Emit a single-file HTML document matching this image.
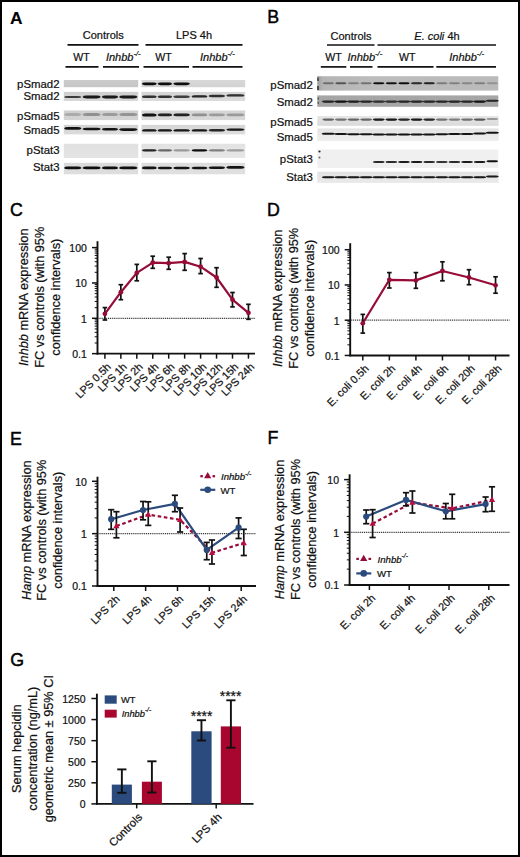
<!DOCTYPE html>
<html><head><meta charset="utf-8"><style>
html,body{margin:0;padding:0;background:#fff;}
svg{display:block;}
text{font-family:"Liberation Sans",sans-serif;stroke:#111;stroke-width:0.22px;}
</style></head><body>
<svg width="520" height="857" viewBox="0 0 520 857">
<defs><filter id="bl" x="-10%" y="-100%" width="120%" height="300%"><feGaussianBlur stdDeviation="0.55"/></filter></defs>
<rect x="0" y="0" width="520" height="857" fill="#fff"/>
<text x="9.9" y="23.8" font-size="17.4" font-weight="bold" fill="#000" style="stroke-width:0.1px">A</text>
<text x="267.30" y="23.45" font-size="17.8" fill="#000" style="stroke:#000;stroke-width:0.45px">B</text>
<text x="9.90" y="216.25" font-size="17.8" fill="#000" style="stroke:#000;stroke-width:0.45px">C</text>
<text x="267.10" y="215.70" font-size="17.8" fill="#000" style="stroke:#000;stroke-width:0.45px">D</text>
<text x="9.90" y="444.50" font-size="17.8" fill="#000" style="stroke:#000;stroke-width:0.45px">E</text>
<text x="267.40" y="444.20" font-size="17.8" fill="#000" style="stroke:#000;stroke-width:0.45px">F</text>
<text x="10.20" y="666.00" font-size="17.8" fill="#000" style="stroke:#000;stroke-width:0.45px">G</text>
<text x="103.30" y="39.30" font-size="11" text-anchor="middle" fill="#111" >Controls</text>
<line x1="67.50" y1="44.90" x2="138.50" y2="44.90" stroke="#111" stroke-width="1.7" />
<text x="194.00" y="39.30" font-size="11" text-anchor="middle" fill="#111" >LPS 4h</text>
<line x1="145.50" y1="44.90" x2="242.50" y2="44.90" stroke="#111" stroke-width="1.7" />
<text x="81.40" y="61.00" font-size="10.6" text-anchor="middle" fill="#111" >WT</text>
<line x1="65.50" y1="66.90" x2="98.50" y2="66.90" stroke="#111" stroke-width="1.7" />
<text x="105.90" y="61.30" font-size="11" text-anchor="start" fill="#111"><tspan font-style="italic">Inhbb</tspan><tspan font-size="7.70" dy="-4.95" font-style="italic">-/-</tspan></text>
<line x1="103.00" y1="66.90" x2="139.00" y2="66.90" stroke="#111" stroke-width="1.7" />
<text x="163.40" y="61.00" font-size="10.6" text-anchor="middle" fill="#111" >WT</text>
<line x1="143.50" y1="66.90" x2="189.00" y2="66.90" stroke="#111" stroke-width="1.7" />
<text x="200.00" y="61.30" font-size="11" text-anchor="start" fill="#111"><tspan font-style="italic">Inhbb</tspan><tspan font-size="7.70" dy="-4.95" font-style="italic">-/-</tspan></text>
<line x1="192.50" y1="66.90" x2="242.50" y2="66.90" stroke="#111" stroke-width="1.7" />
<text x="59.50" y="87.60" font-size="11.4" text-anchor="end" fill="#111" >pSmad2</text>
<text x="59.50" y="100.30" font-size="11.4" text-anchor="end" fill="#111" >Smad2</text>
<text x="59.50" y="119.60" font-size="11.4" text-anchor="end" fill="#111" >pSmad5</text>
<text x="59.50" y="134.10" font-size="11.4" text-anchor="end" fill="#111" >Smad5</text>
<text x="59.50" y="154.20" font-size="11.4" text-anchor="end" fill="#111" >pStat3</text>
<text x="59.50" y="171.20" font-size="11.4" text-anchor="end" fill="#111" >Stat3</text>
<defs><linearGradient id="ga1" x1="0" x2="0" y1="0" y2="1"><stop offset="0" stop-color="#cbcbcb"/><stop offset="1" stop-color="#c6c6c6"/></linearGradient></defs>
<rect x="63.80" y="80.00" width="74.40" height="7.20" fill="url(#ga1)" />
<defs><linearGradient id="ga2" x1="0" x2="0" y1="0" y2="1"><stop offset="0" stop-color="#d8d8d8"/><stop offset="1" stop-color="#d2d2d2"/></linearGradient></defs>
<rect x="141.40" y="80.00" width="103.80" height="7.20" fill="url(#ga2)" />
<path fill="#0a0a0a" fill-opacity="1.00" filter="url(#bl)" d="M141.80,83.80 Q142.31,82.40 145.18,82.40 L153.43,82.40 Q156.29,82.40 156.80,83.80 Q156.29,85.20 153.43,85.20 L145.18,85.20 Q142.31,85.20 141.80,83.80Z"/>
<path fill="#0a0a0a" fill-opacity="0.99" filter="url(#bl)" d="M157.60,83.80 Q158.09,82.40 160.88,82.40 L168.91,82.40 Q171.71,82.40 172.20,83.80 Q171.71,85.20 168.91,85.20 L160.88,85.20 Q158.09,85.20 157.60,83.80Z"/>
<path fill="#0a0a0a" fill-opacity="0.99" filter="url(#bl)" d="M173.20,83.80 Q173.77,82.40 176.98,82.40 L186.22,82.40 Q189.43,82.40 190.00,83.80 Q189.43,85.20 186.22,85.20 L176.98,85.20 Q173.77,85.20 173.20,83.80Z"/>
<defs><linearGradient id="ga3" x1="0" x2="0" y1="0" y2="1"><stop offset="0" stop-color="#cecece"/><stop offset="1" stop-color="#d8d8d8"/></linearGradient></defs>
<rect x="63.80" y="91.90" width="74.40" height="9.10" fill="url(#ga3)" />
<defs><linearGradient id="ga4" x1="0" x2="0" y1="0" y2="1"><stop offset="0" stop-color="#d4d4d4"/><stop offset="1" stop-color="#dcdcdc"/></linearGradient></defs>
<rect x="141.40" y="91.90" width="103.80" height="9.10" fill="url(#ga4)" />
<path fill="#0a0a0a" fill-opacity="0.77" filter="url(#bl)" d="M64.00,97.00 Q64.59,95.90 67.94,95.90 L77.56,95.90 Q80.91,95.90 81.50,97.00 Q80.91,98.10 77.56,98.10 L67.94,98.10 Q64.59,98.10 64.00,97.00Z"/>
<path fill="#0a0a0a" fill-opacity="0.94" filter="url(#bl)" d="M82.50,97.00 Q83.12,95.60 86.62,95.60 L96.68,95.60 Q100.18,95.60 100.80,97.00 Q100.18,98.40 96.68,98.40 L86.62,98.40 Q83.12,98.40 82.50,97.00Z"/>
<path fill="#0a0a0a" fill-opacity="0.94" filter="url(#bl)" d="M101.80,97.00 Q102.35,95.60 105.49,95.60 L114.51,95.60 Q117.65,95.60 118.20,97.00 Q117.65,98.40 114.51,98.40 L105.49,98.40 Q102.35,98.40 101.80,97.00Z"/>
<path fill="#0a0a0a" fill-opacity="0.94" filter="url(#bl)" d="M119.00,97.00 Q119.63,95.60 123.19,95.60 L133.41,95.60 Q136.97,95.60 137.60,97.00 Q136.97,98.40 133.41,98.40 L123.19,98.40 Q119.63,98.40 119.00,97.00Z"/>
<path fill="#0a0a0a" fill-opacity="0.83" filter="url(#bl)" d="M141.80,96.80 Q142.31,95.60 145.18,95.60 L153.43,95.60 Q156.29,95.60 156.80,96.80 Q156.29,98.00 153.43,98.00 L145.18,98.00 Q142.31,98.00 141.80,96.80Z"/>
<path fill="#0a0a0a" fill-opacity="0.83" filter="url(#bl)" d="M157.60,96.70 Q158.09,95.50 160.88,95.50 L168.91,95.50 Q171.71,95.50 172.20,96.70 Q171.71,97.90 168.91,97.90 L160.88,97.90 Q158.09,97.90 157.60,96.70Z"/>
<path fill="#0a0a0a" fill-opacity="0.77" filter="url(#bl)" d="M173.20,96.80 Q173.77,95.60 176.98,95.60 L186.22,95.60 Q189.43,95.60 190.00,96.80 Q189.43,98.00 186.22,98.00 L176.98,98.00 Q173.77,98.00 173.20,96.80Z"/>
<path fill="#0a0a0a" fill-opacity="0.88" filter="url(#bl)" d="M191.50,96.40 Q192.04,95.20 195.10,95.20 L203.90,95.20 Q206.96,95.20 207.50,96.40 Q206.96,97.60 203.90,97.60 L195.10,97.60 Q192.04,97.60 191.50,96.40Z"/>
<path fill="#0a0a0a" fill-opacity="0.83" filter="url(#bl)" d="M208.50,96.00 Q209.06,94.80 212.26,94.80 L221.44,94.80 Q224.64,94.80 225.20,96.00 Q224.64,97.20 221.44,97.20 L212.26,97.20 Q209.06,97.20 208.50,96.00Z"/>
<path fill="#0a0a0a" fill-opacity="0.83" filter="url(#bl)" d="M226.20,95.40 Q226.82,94.20 230.34,94.20 L240.46,94.20 Q243.98,94.20 244.60,95.40 Q243.98,96.60 240.46,96.60 L230.34,96.60 Q226.82,96.60 226.20,95.40Z"/>
<defs><linearGradient id="ga5" x1="0" x2="0" y1="0" y2="1"><stop offset="0" stop-color="#cfcfcf"/><stop offset="1" stop-color="#d3d3d3"/></linearGradient></defs>
<rect x="63.80" y="110.50" width="74.40" height="9.60" fill="url(#ga5)" />
<defs><linearGradient id="ga6" x1="0" x2="0" y1="0" y2="1"><stop offset="0" stop-color="#d4d4d4"/><stop offset="1" stop-color="#d8d8d8"/></linearGradient></defs>
<rect x="141.40" y="110.50" width="103.80" height="9.60" fill="url(#ga6)" />
<path fill="#0a0a0a" fill-opacity="0.18" filter="url(#bl)" d="M64.00,114.50 Q64.59,113.00 67.94,113.00 L77.56,113.00 Q80.91,113.00 81.50,114.50 Q80.91,116.00 77.56,116.00 L67.94,116.00 Q64.59,116.00 64.00,114.50Z"/>
<path fill="#0a0a0a" fill-opacity="0.31" filter="url(#bl)" d="M82.50,114.50 Q83.12,113.00 86.62,113.00 L96.68,113.00 Q100.18,113.00 100.80,114.50 Q100.18,116.00 96.68,116.00 L86.62,116.00 Q83.12,116.00 82.50,114.50Z"/>
<path fill="#0a0a0a" fill-opacity="0.26" filter="url(#bl)" d="M101.80,114.50 Q102.35,113.00 105.49,113.00 L114.51,113.00 Q117.65,113.00 118.20,114.50 Q117.65,116.00 114.51,116.00 L105.49,116.00 Q102.35,116.00 101.80,114.50Z"/>
<path fill="#0a0a0a" fill-opacity="0.29" filter="url(#bl)" d="M119.00,114.50 Q119.63,113.00 123.19,113.00 L133.41,113.00 Q136.97,113.00 137.60,114.50 Q136.97,116.00 133.41,116.00 L123.19,116.00 Q119.63,116.00 119.00,114.50Z"/>
<path fill="#0a0a0a" fill-opacity="0.97" filter="url(#bl)" d="M141.80,114.90 Q142.31,113.40 145.18,113.40 L153.43,113.40 Q156.29,113.40 156.80,114.90 Q156.29,116.40 153.43,116.40 L145.18,116.40 Q142.31,116.40 141.80,114.90Z"/>
<path fill="#0a0a0a" fill-opacity="0.90" filter="url(#bl)" d="M157.60,114.90 Q158.09,113.50 160.88,113.50 L168.91,113.50 Q171.71,113.50 172.20,114.90 Q171.71,116.30 168.91,116.30 L160.88,116.30 Q158.09,116.30 157.60,114.90Z"/>
<path fill="#0a0a0a" fill-opacity="0.90" filter="url(#bl)" d="M173.20,114.90 Q173.77,113.50 176.98,113.50 L186.22,113.50 Q189.43,113.50 190.00,114.90 Q189.43,116.30 186.22,116.30 L176.98,116.30 Q173.77,116.30 173.20,114.90Z"/>
<path fill="#0a0a0a" fill-opacity="0.33" filter="url(#bl)" d="M191.50,114.90 Q192.04,113.60 195.10,113.60 L203.90,113.60 Q206.96,113.60 207.50,114.90 Q206.96,116.20 203.90,116.20 L195.10,116.20 Q192.04,116.20 191.50,114.90Z"/>
<path fill="#0a0a0a" fill-opacity="0.28" filter="url(#bl)" d="M208.50,114.90 Q209.06,113.60 212.26,113.60 L221.44,113.60 Q224.64,113.60 225.20,114.90 Q224.64,116.20 221.44,116.20 L212.26,116.20 Q209.06,116.20 208.50,114.90Z"/>
<path fill="#0a0a0a" fill-opacity="0.28" filter="url(#bl)" d="M226.20,114.90 Q226.82,113.60 230.34,113.60 L240.46,113.60 Q243.98,113.60 244.60,114.90 Q243.98,116.20 240.46,116.20 L230.34,116.20 Q226.82,116.20 226.20,114.90Z"/>
<defs><linearGradient id="ga7" x1="0" x2="0" y1="0" y2="1"><stop offset="0" stop-color="#d2d2d2"/><stop offset="1" stop-color="#dcdcdc"/></linearGradient></defs>
<rect x="63.80" y="124.90" width="74.40" height="9.50" fill="url(#ga7)" />
<defs><linearGradient id="ga8" x1="0" x2="0" y1="0" y2="1"><stop offset="0" stop-color="#d6d6d6"/><stop offset="1" stop-color="#dedede"/></linearGradient></defs>
<rect x="141.40" y="124.90" width="103.80" height="9.50" fill="url(#ga8)" />
<path fill="#0a0a0a" fill-opacity="0.97" filter="url(#bl)" d="M64.00,128.40 Q64.59,127.10 67.94,127.10 L77.56,127.10 Q80.91,127.10 81.50,128.40 Q80.91,129.70 77.56,129.70 L67.94,129.70 Q64.59,129.70 64.00,128.40Z"/>
<path fill="#0a0a0a" fill-opacity="0.97" filter="url(#bl)" d="M82.50,129.00 Q83.12,127.70 86.62,127.70 L96.68,127.70 Q100.18,127.70 100.80,129.00 Q100.18,130.30 96.68,130.30 L86.62,130.30 Q83.12,130.30 82.50,129.00Z"/>
<path fill="#0a0a0a" fill-opacity="0.97" filter="url(#bl)" d="M101.80,129.20 Q102.35,127.90 105.49,127.90 L114.51,127.90 Q117.65,127.90 118.20,129.20 Q117.65,130.50 114.51,130.50 L105.49,130.50 Q102.35,130.50 101.80,129.20Z"/>
<path fill="#0a0a0a" fill-opacity="0.97" filter="url(#bl)" d="M119.00,129.60 Q119.63,128.30 123.19,128.30 L133.41,128.30 Q136.97,128.30 137.60,129.60 Q136.97,130.90 133.41,130.90 L123.19,130.90 Q119.63,130.90 119.00,129.60Z"/>
<path fill="#0a0a0a" fill-opacity="0.94" filter="url(#bl)" d="M141.80,130.40 Q142.31,129.20 145.18,129.20 L153.43,129.20 Q156.29,129.20 156.80,130.40 Q156.29,131.60 153.43,131.60 L145.18,131.60 Q142.31,131.60 141.80,130.40Z"/>
<path fill="#0a0a0a" fill-opacity="0.94" filter="url(#bl)" d="M157.60,130.40 Q158.09,129.20 160.88,129.20 L168.91,129.20 Q171.71,129.20 172.20,130.40 Q171.71,131.60 168.91,131.60 L160.88,131.60 Q158.09,131.60 157.60,130.40Z"/>
<path fill="#0a0a0a" fill-opacity="0.94" filter="url(#bl)" d="M173.20,130.40 Q173.77,129.20 176.98,129.20 L186.22,129.20 Q189.43,129.20 190.00,130.40 Q189.43,131.60 186.22,131.60 L176.98,131.60 Q173.77,131.60 173.20,130.40Z"/>
<path fill="#0a0a0a" fill-opacity="0.94" filter="url(#bl)" d="M191.50,130.40 Q192.04,129.20 195.10,129.20 L203.90,129.20 Q206.96,129.20 207.50,130.40 Q206.96,131.60 203.90,131.60 L195.10,131.60 Q192.04,131.60 191.50,130.40Z"/>
<path fill="#0a0a0a" fill-opacity="0.88" filter="url(#bl)" d="M208.50,130.20 Q209.06,129.00 212.26,129.00 L221.44,129.00 Q224.64,129.00 225.20,130.20 Q224.64,131.40 221.44,131.40 L212.26,131.40 Q209.06,131.40 208.50,130.20Z"/>
<path fill="#0a0a0a" fill-opacity="0.94" filter="url(#bl)" d="M226.20,129.60 Q226.82,128.40 230.34,128.40 L240.46,128.40 Q243.98,128.40 244.60,129.60 Q243.98,130.80 240.46,130.80 L230.34,130.80 Q226.82,130.80 226.20,129.60Z"/>
<defs><linearGradient id="ga9" x1="0" x2="0" y1="0" y2="1"><stop offset="0" stop-color="#e0e0e0"/><stop offset="1" stop-color="#e4e4e4"/></linearGradient></defs>
<rect x="63.80" y="143.80" width="74.40" height="14.20" fill="url(#ga9)" />
<defs><linearGradient id="ga10" x1="0" x2="0" y1="0" y2="1"><stop offset="0" stop-color="#e2e2e2"/><stop offset="1" stop-color="#e6e6e6"/></linearGradient></defs>
<rect x="141.40" y="143.80" width="103.80" height="14.20" fill="url(#ga10)" />
<path fill="#0a0a0a" fill-opacity="0.88" filter="url(#bl)" d="M141.80,150.40 Q142.31,149.30 145.18,149.30 L153.43,149.30 Q156.29,149.30 156.80,150.40 Q156.29,151.50 153.43,151.50 L145.18,151.50 Q142.31,151.50 141.80,150.40Z"/>
<path fill="#0a0a0a" fill-opacity="0.55" filter="url(#bl)" d="M157.60,150.40 Q158.09,149.30 160.88,149.30 L168.91,149.30 Q171.71,149.30 172.20,150.40 Q171.71,151.50 168.91,151.50 L160.88,151.50 Q158.09,151.50 157.60,150.40Z"/>
<path fill="#0a0a0a" fill-opacity="0.33" filter="url(#bl)" d="M173.20,150.40 Q173.77,149.30 176.98,149.30 L186.22,149.30 Q189.43,149.30 190.00,150.40 Q189.43,151.50 186.22,151.50 L176.98,151.50 Q173.77,151.50 173.20,150.40Z"/>
<path fill="#0a0a0a" fill-opacity="1.00" filter="url(#bl)" d="M191.50,150.40 Q192.04,149.30 195.10,149.30 L203.90,149.30 Q206.96,149.30 207.50,150.40 Q206.96,151.50 203.90,151.50 L195.10,151.50 Q192.04,151.50 191.50,150.40Z"/>
<path fill="#0a0a0a" fill-opacity="0.44" filter="url(#bl)" d="M208.50,150.40 Q209.06,149.30 212.26,149.30 L221.44,149.30 Q224.64,149.30 225.20,150.40 Q224.64,151.50 221.44,151.50 L212.26,151.50 Q209.06,151.50 208.50,150.40Z"/>
<path fill="#0a0a0a" fill-opacity="0.31" filter="url(#bl)" d="M226.20,150.40 Q226.82,149.30 230.34,149.30 L240.46,149.30 Q243.98,149.30 244.60,150.40 Q243.98,151.50 240.46,151.50 L230.34,151.50 Q226.82,151.50 226.20,150.40Z"/>
<defs><linearGradient id="ga11" x1="0" x2="0" y1="0" y2="1"><stop offset="0" stop-color="#dadada"/><stop offset="1" stop-color="#dedede"/></linearGradient></defs>
<rect x="63.80" y="162.80" width="74.40" height="11.50" fill="url(#ga11)" />
<defs><linearGradient id="ga12" x1="0" x2="0" y1="0" y2="1"><stop offset="0" stop-color="#dcdcdc"/><stop offset="1" stop-color="#e0e0e0"/></linearGradient></defs>
<rect x="141.40" y="162.80" width="103.80" height="11.50" fill="url(#ga12)" />
<path fill="#0a0a0a" fill-opacity="0.99" filter="url(#bl)" d="M64.00,167.90 Q64.59,166.50 67.94,166.50 L77.56,166.50 Q80.91,166.50 81.50,167.90 Q80.91,169.30 77.56,169.30 L67.94,169.30 Q64.59,169.30 64.00,167.90Z"/>
<path fill="#0a0a0a" fill-opacity="0.99" filter="url(#bl)" d="M82.50,167.90 Q83.12,166.50 86.62,166.50 L96.68,166.50 Q100.18,166.50 100.80,167.90 Q100.18,169.30 96.68,169.30 L86.62,169.30 Q83.12,169.30 82.50,167.90Z"/>
<path fill="#0a0a0a" fill-opacity="0.99" filter="url(#bl)" d="M101.80,167.90 Q102.35,166.50 105.49,166.50 L114.51,166.50 Q117.65,166.50 118.20,167.90 Q117.65,169.30 114.51,169.30 L105.49,169.30 Q102.35,169.30 101.80,167.90Z"/>
<path fill="#0a0a0a" fill-opacity="0.99" filter="url(#bl)" d="M119.00,167.90 Q119.63,166.50 123.19,166.50 L133.41,166.50 Q136.97,166.50 137.60,167.90 Q136.97,169.30 133.41,169.30 L123.19,169.30 Q119.63,169.30 119.00,167.90Z"/>
<path fill="#0a0a0a" fill-opacity="0.97" filter="url(#bl)" d="M141.80,167.90 Q142.31,166.60 145.18,166.60 L153.43,166.60 Q156.29,166.60 156.80,167.90 Q156.29,169.20 153.43,169.20 L145.18,169.20 Q142.31,169.20 141.80,167.90Z"/>
<path fill="#0a0a0a" fill-opacity="0.97" filter="url(#bl)" d="M157.60,168.00 Q158.09,166.70 160.88,166.70 L168.91,166.70 Q171.71,166.70 172.20,168.00 Q171.71,169.30 168.91,169.30 L160.88,169.30 Q158.09,169.30 157.60,168.00Z"/>
<path fill="#0a0a0a" fill-opacity="0.97" filter="url(#bl)" d="M173.20,168.00 Q173.77,166.70 176.98,166.70 L186.22,166.70 Q189.43,166.70 190.00,168.00 Q189.43,169.30 186.22,169.30 L176.98,169.30 Q173.77,169.30 173.20,168.00Z"/>
<path fill="#0a0a0a" fill-opacity="0.97" filter="url(#bl)" d="M191.50,168.00 Q192.04,166.70 195.10,166.70 L203.90,166.70 Q206.96,166.70 207.50,168.00 Q206.96,169.30 203.90,169.30 L195.10,169.30 Q192.04,169.30 191.50,168.00Z"/>
<path fill="#0a0a0a" fill-opacity="0.97" filter="url(#bl)" d="M208.50,167.80 Q209.06,166.50 212.26,166.50 L221.44,166.50 Q224.64,166.50 225.20,167.80 Q224.64,169.10 221.44,169.10 L212.26,169.10 Q209.06,169.10 208.50,167.80Z"/>
<path fill="#0a0a0a" fill-opacity="0.97" filter="url(#bl)" d="M226.20,167.40 Q226.82,166.10 230.34,166.10 L240.46,166.10 Q243.98,166.10 244.60,167.40 Q243.98,168.70 240.46,168.70 L230.34,168.70 Q226.82,168.70 226.20,167.40Z"/>
<text x="351.00" y="39.60" font-size="11" text-anchor="middle" fill="#111" >Controls</text>
<line x1="327.00" y1="45.00" x2="374.50" y2="45.00" stroke="#111" stroke-width="1.7" />
<text x="437" y="39.6" font-size="11" text-anchor="middle" fill="#111"><tspan font-style="italic">E. coli</tspan> 4h</text>
<line x1="377.50" y1="45.00" x2="496.00" y2="45.00" stroke="#111" stroke-width="1.7" />
<text x="333.60" y="61.00" font-size="10.6" text-anchor="middle" fill="#111" >WT</text>
<line x1="320.80" y1="66.90" x2="346.30" y2="66.90" stroke="#111" stroke-width="1.7" />
<text x="347.50" y="61.30" font-size="11" text-anchor="start" fill="#111"><tspan font-style="italic">Inhbb</tspan><tspan font-size="7.70" dy="-4.95" font-style="italic">-/-</tspan></text>
<line x1="350.00" y1="66.90" x2="372.50" y2="66.90" stroke="#111" stroke-width="1.7" />
<text x="407.20" y="61.00" font-size="10.6" text-anchor="middle" fill="#111" >WT</text>
<line x1="377.50" y1="66.90" x2="433.50" y2="66.90" stroke="#111" stroke-width="1.7" />
<text x="449.30" y="61.30" font-size="11" text-anchor="start" fill="#111"><tspan font-style="italic">Inhbb</tspan><tspan font-size="7.70" dy="-4.95" font-style="italic">-/-</tspan></text>
<line x1="436.30" y1="66.90" x2="496.00" y2="66.90" stroke="#111" stroke-width="1.7" />
<text x="312.80" y="89.30" font-size="11.4" text-anchor="end" fill="#111" >pSmad2</text>
<text x="312.80" y="105.50" font-size="11.4" text-anchor="end" fill="#111" >Smad2</text>
<text x="312.80" y="126.30" font-size="11.4" text-anchor="end" fill="#111" >pSmad5</text>
<text x="312.80" y="140.50" font-size="11.4" text-anchor="end" fill="#111" >Smad5</text>
<text x="312.80" y="162.50" font-size="11.4" text-anchor="end" fill="#111" >pStat3</text>
<text x="312.80" y="181.30" font-size="11.4" text-anchor="end" fill="#111" >Stat3</text>
<defs><linearGradient id="gb1" x1="0" x2="1" y1="0" y2="0"><stop offset="0" stop-color="#9c9c9c"/><stop offset="0.03" stop-color="#b4b4b4"/><stop offset="0.3" stop-color="#bcbcbc"/><stop offset="1" stop-color="#bababa"/></linearGradient></defs>
<rect x="317.30" y="76.20" width="181.00" height="14.40" fill="url(#gb1)" />
<rect x="317.30" y="77.50" width="1.40" height="3.50" fill="#333" />
<rect x="317.30" y="86.00" width="1.40" height="4.00" fill="#222" />
<path fill="#0a0a0a" fill-opacity="0.39" filter="url(#bl)" d="M322.60,83.30 Q322.99,82.25 325.17,82.25 L331.45,82.25 Q333.63,82.25 334.01,83.30 Q333.63,84.35 331.45,84.35 L325.17,84.35 Q322.99,84.35 322.60,83.30Z"/>
<path fill="#0a0a0a" fill-opacity="0.55" filter="url(#bl)" d="M335.21,83.30 Q335.60,82.25 337.78,82.25 L344.06,82.25 Q346.24,82.25 346.63,83.30 Q346.24,84.35 344.06,84.35 L337.78,84.35 Q335.60,84.35 335.21,83.30Z"/>
<path fill="#0a0a0a" fill-opacity="0.31" filter="url(#bl)" d="M347.83,83.30 Q348.21,82.25 350.40,82.25 L356.67,82.25 Q358.86,82.25 359.24,83.30 Q358.86,84.35 356.67,84.35 L350.40,84.35 Q348.21,84.35 347.83,83.30Z"/>
<path fill="#0a0a0a" fill-opacity="0.39" filter="url(#bl)" d="M360.44,83.30 Q360.83,82.25 363.01,82.25 L369.29,82.25 Q371.47,82.25 371.86,83.30 Q371.47,84.35 369.29,84.35 L363.01,84.35 Q360.83,84.35 360.44,83.30Z"/>
<path fill="#0a0a0a" fill-opacity="0.99" filter="url(#bl)" d="M373.06,83.30 Q373.44,82.25 375.63,82.25 L381.90,82.25 Q384.09,82.25 384.47,83.30 Q384.09,84.35 381.90,84.35 L375.63,84.35 Q373.44,84.35 373.06,83.30Z"/>
<path fill="#0a0a0a" fill-opacity="0.97" filter="url(#bl)" d="M385.67,83.30 Q386.06,82.25 388.24,82.25 L394.52,82.25 Q396.70,82.25 397.09,83.30 Q396.70,84.35 394.52,84.35 L388.24,84.35 Q386.06,84.35 385.67,83.30Z"/>
<path fill="#0a0a0a" fill-opacity="1.00" filter="url(#bl)" d="M398.29,83.30 Q398.67,82.25 400.85,82.25 L407.13,82.25 Q409.31,82.25 409.70,83.30 Q409.31,84.35 407.13,84.35 L400.85,84.35 Q398.67,84.35 398.29,83.30Z"/>
<path fill="#0a0a0a" fill-opacity="0.83" filter="url(#bl)" d="M410.90,83.30 Q411.29,82.25 413.47,82.25 L419.75,82.25 Q421.93,82.25 422.31,83.30 Q421.93,84.35 419.75,84.35 L413.47,84.35 Q411.29,84.35 410.90,83.30Z"/>
<path fill="#0a0a0a" fill-opacity="0.88" filter="url(#bl)" d="M423.51,83.30 Q423.90,82.25 426.08,82.25 L432.36,82.25 Q434.54,82.25 434.93,83.30 Q434.54,84.35 432.36,84.35 L426.08,84.35 Q423.90,84.35 423.51,83.30Z"/>
<path fill="#0a0a0a" fill-opacity="0.33" filter="url(#bl)" d="M436.13,83.30 Q436.51,82.25 438.70,82.25 L444.97,82.25 Q447.16,82.25 447.54,83.30 Q447.16,84.35 444.97,84.35 L438.70,84.35 Q436.51,84.35 436.13,83.30Z"/>
<path fill="#0a0a0a" fill-opacity="0.31" filter="url(#bl)" d="M448.74,83.30 Q449.13,82.25 451.31,82.25 L457.59,82.25 Q459.77,82.25 460.16,83.30 Q459.77,84.35 457.59,84.35 L451.31,84.35 Q449.13,84.35 448.74,83.30Z"/>
<path fill="#0a0a0a" fill-opacity="0.28" filter="url(#bl)" d="M461.36,83.30 Q461.74,82.25 463.93,82.25 L470.20,82.25 Q472.39,82.25 472.77,83.30 Q472.39,84.35 470.20,84.35 L463.93,84.35 Q461.74,84.35 461.36,83.30Z"/>
<path fill="#0a0a0a" fill-opacity="0.33" filter="url(#bl)" d="M473.97,83.30 Q474.36,82.25 476.54,82.25 L482.82,82.25 Q485.00,82.25 485.39,83.30 Q485.00,84.35 482.82,84.35 L476.54,84.35 Q474.36,84.35 473.97,83.30Z"/>
<path fill="#0a0a0a" fill-opacity="0.22" filter="url(#bl)" d="M486.59,83.30 Q486.97,82.25 489.15,82.25 L495.43,82.25 Q497.61,82.25 498.00,83.30 Q497.61,84.35 495.43,84.35 L489.15,84.35 Q486.97,84.35 486.59,83.30Z"/>
<rect x="317.30" y="95.40" width="181.00" height="11.40" fill="#a6a6a6" />
<rect x="317.60" y="97.50" width="1.40" height="2.00" fill="#555" />
<rect x="317.60" y="101.80" width="1.40" height="2.00" fill="#555" />
<path fill="#0a0a0a" fill-opacity="0.83" filter="url(#bl)" d="M321.70,101.60 Q322.15,100.55 324.67,100.55 L331.94,100.55 Q334.47,100.55 334.91,101.60 Q334.47,102.65 331.94,102.65 L324.67,102.65 Q322.15,102.65 321.70,101.60Z"/>
<path fill="#0a0a0a" fill-opacity="0.94" filter="url(#bl)" d="M334.31,101.60 Q334.76,100.55 337.29,100.55 L344.56,100.55 Q347.08,100.55 347.53,101.60 Q347.08,102.65 344.56,102.65 L337.29,102.65 Q334.76,102.65 334.31,101.60Z"/>
<path fill="#0a0a0a" fill-opacity="0.88" filter="url(#bl)" d="M346.93,101.60 Q347.37,100.55 349.90,100.55 L357.17,100.55 Q359.70,100.55 360.14,101.60 Q359.70,102.65 357.17,102.65 L349.90,102.65 Q347.37,102.65 346.93,101.60Z"/>
<path fill="#0a0a0a" fill-opacity="0.83" filter="url(#bl)" d="M359.54,101.60 Q359.99,100.55 362.52,100.55 L369.78,100.55 Q372.31,100.55 372.76,101.60 Q372.31,102.65 369.78,102.65 L362.52,102.65 Q359.99,102.65 359.54,101.60Z"/>
<path fill="#0a0a0a" fill-opacity="0.77" filter="url(#bl)" d="M372.16,101.60 Q372.60,100.55 375.13,100.55 L382.40,100.55 Q384.93,100.55 385.37,101.60 Q384.93,102.65 382.40,102.65 L375.13,102.65 Q372.60,102.65 372.16,101.60Z"/>
<path fill="#0a0a0a" fill-opacity="0.77" filter="url(#bl)" d="M384.77,101.60 Q385.22,100.55 387.74,100.55 L395.01,100.55 Q397.54,100.55 397.99,101.60 Q397.54,102.65 395.01,102.65 L387.74,102.65 Q385.22,102.65 384.77,101.60Z"/>
<path fill="#0a0a0a" fill-opacity="0.83" filter="url(#bl)" d="M397.39,101.60 Q397.83,100.55 400.36,100.55 L407.63,100.55 Q410.15,100.55 410.60,101.60 Q410.15,102.65 407.63,102.65 L400.36,102.65 Q397.83,102.65 397.39,101.60Z"/>
<path fill="#0a0a0a" fill-opacity="0.83" filter="url(#bl)" d="M410.00,101.60 Q410.45,100.55 412.97,100.55 L420.24,100.55 Q422.77,100.55 423.21,101.60 Q422.77,102.65 420.24,102.65 L412.97,102.65 Q410.45,102.65 410.00,101.60Z"/>
<path fill="#0a0a0a" fill-opacity="0.83" filter="url(#bl)" d="M422.61,101.60 Q423.06,100.55 425.59,100.55 L432.86,100.55 Q435.38,100.55 435.83,101.60 Q435.38,102.65 432.86,102.65 L425.59,102.65 Q423.06,102.65 422.61,101.60Z"/>
<path fill="#0a0a0a" fill-opacity="0.83" filter="url(#bl)" d="M435.23,101.60 Q435.67,100.55 438.20,100.55 L445.47,100.55 Q448.00,100.55 448.44,101.60 Q448.00,102.65 445.47,102.65 L438.20,102.65 Q435.67,102.65 435.23,101.60Z"/>
<path fill="#0a0a0a" fill-opacity="0.83" filter="url(#bl)" d="M447.84,101.60 Q448.29,100.55 450.82,100.55 L458.08,100.55 Q460.61,100.55 461.06,101.60 Q460.61,102.65 458.08,102.65 L450.82,102.65 Q448.29,102.65 447.84,101.60Z"/>
<path fill="#0a0a0a" fill-opacity="0.83" filter="url(#bl)" d="M460.46,101.60 Q460.90,100.55 463.43,100.55 L470.70,100.55 Q473.23,100.55 473.67,101.60 Q473.23,102.65 470.70,102.65 L463.43,102.65 Q460.90,102.65 460.46,101.60Z"/>
<path fill="#0a0a0a" fill-opacity="0.94" filter="url(#bl)" d="M473.07,101.60 Q473.52,100.55 476.04,100.55 L483.31,100.55 Q485.84,100.55 486.29,101.60 Q485.84,102.65 483.31,102.65 L476.04,102.65 Q473.52,102.65 473.07,101.60Z"/>
<path fill="#0a0a0a" fill-opacity="0.83" filter="url(#bl)" d="M485.69,100.80 Q486.13,99.75 488.66,99.75 L495.93,99.75 Q498.45,99.75 498.90,100.80 Q498.45,101.85 495.93,101.85 L488.66,101.85 Q486.13,101.85 485.69,100.80Z"/>
<defs><linearGradient id="gb5" x1="0" x2="0" y1="0" y2="1"><stop offset="0" stop-color="#e6e6e6"/><stop offset="1" stop-color="#dadada"/></linearGradient></defs>
<rect x="317.30" y="116.00" width="181.30" height="9.80" fill="url(#gb5)" />
<path fill="#0a0a0a" fill-opacity="0.55" filter="url(#bl)" d="M322.30,119.60 Q322.71,118.55 325.00,118.55 L331.61,118.55 Q333.91,118.55 334.31,119.60 Q333.91,120.65 331.61,120.65 L325.00,120.65 Q322.71,120.65 322.30,119.60Z"/>
<path fill="#0a0a0a" fill-opacity="0.50" filter="url(#bl)" d="M334.91,119.60 Q335.32,118.55 337.62,118.55 L344.23,118.55 Q346.52,118.55 346.93,119.60 Q346.52,120.65 344.23,120.65 L337.62,120.65 Q335.32,120.65 334.91,119.60Z"/>
<path fill="#0a0a0a" fill-opacity="0.55" filter="url(#bl)" d="M347.53,119.60 Q347.93,118.55 350.23,118.55 L356.84,118.55 Q359.14,118.55 359.54,119.60 Q359.14,120.65 356.84,120.65 L350.23,120.65 Q347.93,120.65 347.53,119.60Z"/>
<path fill="#0a0a0a" fill-opacity="0.55" filter="url(#bl)" d="M360.14,119.60 Q360.55,118.55 362.85,118.55 L369.45,118.55 Q371.75,118.55 372.16,119.60 Q371.75,120.65 369.45,120.65 L362.85,120.65 Q360.55,120.65 360.14,119.60Z"/>
<path fill="#0a0a0a" fill-opacity="0.94" filter="url(#bl)" d="M372.76,119.60 Q373.16,118.55 375.46,118.55 L382.07,118.55 Q384.37,118.55 384.77,119.60 Q384.37,120.65 382.07,120.65 L375.46,120.65 Q373.16,120.65 372.76,119.60Z"/>
<path fill="#0a0a0a" fill-opacity="0.94" filter="url(#bl)" d="M385.37,119.60 Q385.78,118.55 388.07,118.55 L394.68,118.55 Q396.98,118.55 397.39,119.60 Q396.98,120.65 394.68,120.65 L388.07,120.65 Q385.78,120.65 385.37,119.60Z"/>
<path fill="#0a0a0a" fill-opacity="0.88" filter="url(#bl)" d="M397.99,119.60 Q398.39,118.55 400.69,118.55 L407.30,118.55 Q409.59,118.55 410.00,119.60 Q409.59,120.65 407.30,120.65 L400.69,120.65 Q398.39,120.65 397.99,119.60Z"/>
<path fill="#0a0a0a" fill-opacity="0.94" filter="url(#bl)" d="M410.60,119.60 Q411.01,118.55 413.30,118.55 L419.91,118.55 Q422.21,118.55 422.61,119.60 Q422.21,120.65 419.91,120.65 L413.30,120.65 Q411.01,120.65 410.60,119.60Z"/>
<path fill="#0a0a0a" fill-opacity="0.88" filter="url(#bl)" d="M423.21,119.60 Q423.62,118.55 425.92,118.55 L432.53,118.55 Q434.82,118.55 435.23,119.60 Q434.82,120.65 432.53,120.65 L425.92,120.65 Q423.62,120.65 423.21,119.60Z"/>
<path fill="#0a0a0a" fill-opacity="0.50" filter="url(#bl)" d="M435.83,119.60 Q436.23,118.55 438.53,118.55 L445.14,118.55 Q447.44,118.55 447.84,119.60 Q447.44,120.65 445.14,120.65 L438.53,120.65 Q436.23,120.65 435.83,119.60Z"/>
<path fill="#0a0a0a" fill-opacity="0.44" filter="url(#bl)" d="M448.44,119.60 Q448.85,118.55 451.15,118.55 L457.75,118.55 Q460.05,118.55 460.46,119.60 Q460.05,120.65 457.75,120.65 L451.15,120.65 Q448.85,120.65 448.44,119.60Z"/>
<path fill="#0a0a0a" fill-opacity="0.50" filter="url(#bl)" d="M461.06,119.60 Q461.46,118.55 463.76,118.55 L470.37,118.55 Q472.67,118.55 473.07,119.60 Q472.67,120.65 470.37,120.65 L463.76,120.65 Q461.46,120.65 461.06,119.60Z"/>
<path fill="#0a0a0a" fill-opacity="0.61" filter="url(#bl)" d="M473.67,119.60 Q474.08,118.55 476.37,118.55 L482.98,118.55 Q485.28,118.55 485.69,119.60 Q485.28,120.65 482.98,120.65 L476.37,120.65 Q474.08,120.65 473.67,119.60Z"/>
<path fill="#0a0a0a" fill-opacity="0.33" filter="url(#bl)" d="M486.29,119.00 Q486.69,117.95 488.99,117.95 L495.60,117.95 Q497.89,117.95 498.30,119.00 Q497.89,120.05 495.60,120.05 L488.99,120.05 Q486.69,120.05 486.29,119.00Z"/>
<defs><linearGradient id="gb6" x1="0" x2="0" y1="0" y2="1"><stop offset="0" stop-color="#e4e4e4"/><stop offset="1" stop-color="#eeeeee"/></linearGradient></defs>
<rect x="317.30" y="128.40" width="181.30" height="12.60" fill="url(#gb6)" />
<path fill="#0a0a0a" fill-opacity="0.97" filter="url(#bl)" d="M321.60,133.80 Q322.05,132.80 324.62,132.80 L332.00,132.80 Q334.56,132.80 335.01,133.80 Q334.56,134.80 332.00,134.80 L324.62,134.80 Q322.05,134.80 321.60,133.80Z"/>
<path fill="#0a0a0a" fill-opacity="0.97" filter="url(#bl)" d="M334.21,134.00 Q334.67,133.00 337.23,133.00 L344.61,133.00 Q347.18,133.00 347.63,134.00 Q347.18,135.00 344.61,135.00 L337.23,135.00 Q334.67,135.00 334.21,134.00Z"/>
<path fill="#0a0a0a" fill-opacity="0.97" filter="url(#bl)" d="M346.83,134.20 Q347.28,133.20 349.85,133.20 L357.22,133.20 Q359.79,133.20 360.24,134.20 Q359.79,135.20 357.22,135.20 L349.85,135.20 Q347.28,135.20 346.83,134.20Z"/>
<path fill="#0a0a0a" fill-opacity="0.97" filter="url(#bl)" d="M359.44,134.30 Q359.90,133.30 362.46,133.30 L369.84,133.30 Q372.40,133.30 372.86,134.30 Q372.40,135.30 369.84,135.30 L362.46,135.30 Q359.90,135.30 359.44,134.30Z"/>
<path fill="#0a0a0a" fill-opacity="0.97" filter="url(#bl)" d="M372.06,134.40 Q372.51,133.40 375.08,133.40 L382.45,133.40 Q385.02,133.40 385.47,134.40 Q385.02,135.40 382.45,135.40 L375.08,135.40 Q372.51,135.40 372.06,134.40Z"/>
<path fill="#0a0a0a" fill-opacity="0.97" filter="url(#bl)" d="M384.67,134.50 Q385.12,133.50 387.69,133.50 L395.07,133.50 Q397.63,133.50 398.09,134.50 Q397.63,135.50 395.07,135.50 L387.69,135.50 Q385.12,135.50 384.67,134.50Z"/>
<path fill="#0a0a0a" fill-opacity="0.97" filter="url(#bl)" d="M397.29,134.50 Q397.74,133.50 400.30,133.50 L407.68,133.50 Q410.25,133.50 410.70,134.50 Q410.25,135.50 407.68,135.50 L400.30,135.50 Q397.74,135.50 397.29,134.50Z"/>
<path fill="#0a0a0a" fill-opacity="0.97" filter="url(#bl)" d="M409.90,134.50 Q410.35,133.50 412.92,133.50 L420.30,133.50 Q422.86,133.50 423.31,134.50 Q422.86,135.50 420.30,135.50 L412.92,135.50 Q410.35,135.50 409.90,134.50Z"/>
<path fill="#0a0a0a" fill-opacity="0.97" filter="url(#bl)" d="M422.51,134.40 Q422.97,133.40 425.53,133.40 L432.91,133.40 Q435.48,133.40 435.93,134.40 Q435.48,135.40 432.91,135.40 L425.53,135.40 Q422.97,135.40 422.51,134.40Z"/>
<path fill="#0a0a0a" fill-opacity="0.97" filter="url(#bl)" d="M435.13,134.30 Q435.58,133.30 438.15,133.30 L445.52,133.30 Q448.09,133.30 448.54,134.30 Q448.09,135.30 445.52,135.30 L438.15,135.30 Q435.58,135.30 435.13,134.30Z"/>
<path fill="#0a0a0a" fill-opacity="0.97" filter="url(#bl)" d="M447.74,134.10 Q448.20,133.10 450.76,133.10 L458.14,133.10 Q460.70,133.10 461.16,134.10 Q460.70,135.10 458.14,135.10 L450.76,135.10 Q448.20,135.10 447.74,134.10Z"/>
<path fill="#0a0a0a" fill-opacity="0.97" filter="url(#bl)" d="M460.36,133.90 Q460.81,132.90 463.38,132.90 L470.75,132.90 Q473.32,132.90 473.77,133.90 Q473.32,134.90 470.75,134.90 L463.38,134.90 Q460.81,134.90 460.36,133.90Z"/>
<path fill="#0a0a0a" fill-opacity="0.97" filter="url(#bl)" d="M472.97,133.60 Q473.42,132.60 475.99,132.60 L483.37,132.60 Q485.93,132.60 486.39,133.60 Q485.93,134.60 483.37,134.60 L475.99,134.60 Q473.42,134.60 472.97,133.60Z"/>
<path fill="#0a0a0a" fill-opacity="0.97" filter="url(#bl)" d="M485.59,132.80 Q486.04,131.80 488.60,131.80 L495.98,131.80 Q498.55,131.80 499.00,132.80 Q498.55,133.80 495.98,133.80 L488.60,133.80 Q486.04,133.80 485.59,132.80Z"/>
<rect x="317.30" y="149.40" width="181.00" height="18.60" fill="#f0f0f0" />
<circle cx="319.5" cy="151.5" r="1.1" fill="#222"/><circle cx="319.5" cy="157.5" r="1.0" fill="#666"/>
<path fill="#0a0a0a" fill-opacity="0.88" filter="url(#bl)" d="M372.86,162.10 Q373.26,161.10 375.52,161.10 L382.01,161.10 Q384.27,161.10 384.67,162.10 Q384.27,163.10 382.01,163.10 L375.52,163.10 Q373.26,163.10 372.86,162.10Z"/>
<path fill="#0a0a0a" fill-opacity="0.88" filter="url(#bl)" d="M385.47,162.10 Q385.87,161.10 388.13,161.10 L394.63,161.10 Q396.89,161.10 397.29,162.10 Q396.89,163.10 394.63,163.10 L388.13,163.10 Q385.87,163.10 385.47,162.10Z"/>
<path fill="#0a0a0a" fill-opacity="0.94" filter="url(#bl)" d="M398.09,162.10 Q398.48,161.10 400.74,161.10 L407.24,161.10 Q409.50,161.10 409.90,162.10 Q409.50,163.10 407.24,163.10 L400.74,163.10 Q398.48,163.10 398.09,162.10Z"/>
<path fill="#0a0a0a" fill-opacity="0.94" filter="url(#bl)" d="M410.70,162.10 Q411.10,161.10 413.36,161.10 L419.86,161.10 Q422.12,161.10 422.51,162.10 Q422.12,163.10 419.86,163.10 L413.36,163.10 Q411.10,163.10 410.70,162.10Z"/>
<path fill="#0a0a0a" fill-opacity="0.88" filter="url(#bl)" d="M423.31,162.10 Q423.71,161.10 425.97,161.10 L432.47,161.10 Q434.73,161.10 435.13,162.10 Q434.73,163.10 432.47,163.10 L425.97,163.10 Q423.71,163.10 423.31,162.10Z"/>
<path fill="#0a0a0a" fill-opacity="0.83" filter="url(#bl)" d="M435.93,162.10 Q436.33,161.10 438.59,161.10 L445.08,161.10 Q447.34,161.10 447.74,162.10 Q447.34,163.10 445.08,163.10 L438.59,163.10 Q436.33,163.10 435.93,162.10Z"/>
<path fill="#0a0a0a" fill-opacity="0.88" filter="url(#bl)" d="M448.54,162.10 Q448.94,161.10 451.20,161.10 L457.70,161.10 Q459.96,161.10 460.36,162.10 Q459.96,163.10 457.70,163.10 L451.20,163.10 Q448.94,163.10 448.54,162.10Z"/>
<path fill="#0a0a0a" fill-opacity="0.94" filter="url(#bl)" d="M461.16,162.10 Q461.56,161.10 463.82,161.10 L470.31,161.10 Q472.57,161.10 472.97,162.10 Q472.57,163.10 470.31,163.10 L463.82,163.10 Q461.56,163.10 461.16,162.10Z"/>
<path fill="#0a0a0a" fill-opacity="0.94" filter="url(#bl)" d="M473.77,162.10 Q474.17,161.10 476.43,161.10 L482.93,161.10 Q485.19,161.10 485.59,162.10 Q485.19,163.10 482.93,163.10 L476.43,163.10 Q474.17,163.10 473.77,162.10Z"/>
<path fill="#0a0a0a" fill-opacity="0.99" filter="url(#bl)" d="M486.39,161.30 Q486.78,160.30 489.04,160.30 L495.54,160.30 Q497.80,160.30 498.20,161.30 Q497.80,162.30 495.54,162.30 L489.04,162.30 Q486.78,162.30 486.39,161.30Z"/>
<defs><linearGradient id="gb7" x1="0" x2="0" y1="0" y2="1"><stop offset="0" stop-color="#e2e2e2"/><stop offset="1" stop-color="#eaeaea"/></linearGradient></defs>
<rect x="317.30" y="171.70" width="181.30" height="11.20" fill="url(#gb7)" />
<path fill="#0a0a0a" fill-opacity="0.94" filter="url(#bl)" d="M321.80,177.20 Q322.24,176.20 324.73,176.20 L331.89,176.20 Q334.38,176.20 334.81,177.20 Q334.38,178.20 331.89,178.20 L324.73,178.20 Q322.24,178.20 321.80,177.20Z"/>
<path fill="#0a0a0a" fill-opacity="0.94" filter="url(#bl)" d="M334.41,177.20 Q334.85,176.20 337.34,176.20 L344.50,176.20 Q346.99,176.20 347.43,177.20 Q346.99,178.20 344.50,178.20 L337.34,178.20 Q334.85,178.20 334.41,177.20Z"/>
<path fill="#0a0a0a" fill-opacity="0.94" filter="url(#bl)" d="M347.03,177.20 Q347.47,176.20 349.96,176.20 L357.11,176.20 Q359.60,176.20 360.04,177.20 Q359.60,178.20 357.11,178.20 L349.96,178.20 Q347.47,178.20 347.03,177.20Z"/>
<path fill="#0a0a0a" fill-opacity="0.94" filter="url(#bl)" d="M359.64,177.20 Q360.08,176.20 362.57,176.20 L369.73,176.20 Q372.22,176.20 372.66,177.20 Q372.22,178.20 369.73,178.20 L362.57,178.20 Q360.08,178.20 359.64,177.20Z"/>
<path fill="#0a0a0a" fill-opacity="0.94" filter="url(#bl)" d="M372.26,177.20 Q372.70,176.20 375.19,176.20 L382.34,176.20 Q384.83,176.20 385.27,177.20 Q384.83,178.20 382.34,178.20 L375.19,178.20 Q372.70,178.20 372.26,177.20Z"/>
<path fill="#0a0a0a" fill-opacity="0.94" filter="url(#bl)" d="M384.87,177.20 Q385.31,176.20 387.80,176.20 L394.96,176.20 Q397.45,176.20 397.89,177.20 Q397.45,178.20 394.96,178.20 L387.80,178.20 Q385.31,178.20 384.87,177.20Z"/>
<path fill="#0a0a0a" fill-opacity="0.94" filter="url(#bl)" d="M397.49,177.20 Q397.92,176.20 400.41,176.20 L407.57,176.20 Q410.06,176.20 410.50,177.20 Q410.06,178.20 407.57,178.20 L400.41,178.20 Q397.92,178.20 397.49,177.20Z"/>
<path fill="#0a0a0a" fill-opacity="0.94" filter="url(#bl)" d="M410.10,177.20 Q410.54,176.20 413.03,176.20 L420.19,176.20 Q422.68,176.20 423.11,177.20 Q422.68,178.20 420.19,178.20 L413.03,178.20 Q410.54,178.20 410.10,177.20Z"/>
<path fill="#0a0a0a" fill-opacity="0.94" filter="url(#bl)" d="M422.71,177.20 Q423.15,176.20 425.64,176.20 L432.80,176.20 Q435.29,176.20 435.73,177.20 Q435.29,178.20 432.80,178.20 L425.64,178.20 Q423.15,178.20 422.71,177.20Z"/>
<path fill="#0a0a0a" fill-opacity="0.94" filter="url(#bl)" d="M435.33,177.20 Q435.77,176.20 438.26,176.20 L445.41,176.20 Q447.90,176.20 448.34,177.20 Q447.90,178.20 445.41,178.20 L438.26,178.20 Q435.77,178.20 435.33,177.20Z"/>
<path fill="#0a0a0a" fill-opacity="0.94" filter="url(#bl)" d="M447.94,177.20 Q448.38,176.20 450.87,176.20 L458.03,176.20 Q460.52,176.20 460.96,177.20 Q460.52,178.20 458.03,178.20 L450.87,178.20 Q448.38,178.20 447.94,177.20Z"/>
<path fill="#0a0a0a" fill-opacity="0.94" filter="url(#bl)" d="M460.56,177.20 Q461.00,176.20 463.49,176.20 L470.64,176.20 Q473.13,176.20 473.57,177.20 Q473.13,178.20 470.64,178.20 L463.49,178.20 Q461.00,178.20 460.56,177.20Z"/>
<path fill="#0a0a0a" fill-opacity="0.94" filter="url(#bl)" d="M473.17,177.20 Q473.61,176.20 476.10,176.20 L483.26,176.20 Q485.75,176.20 486.19,177.20 Q485.75,178.20 483.26,178.20 L476.10,178.20 Q473.61,178.20 473.17,177.20Z"/>
<path fill="#0a0a0a" fill-opacity="0.94" filter="url(#bl)" d="M485.79,176.50 Q486.22,175.50 488.71,175.50 L495.87,175.50 Q498.36,175.50 498.80,176.50 Q498.36,177.50 495.87,177.50 L488.71,177.50 Q486.22,177.50 485.79,176.50Z"/>
<line x1="97.50" y1="241.20" x2="97.50" y2="354.55" stroke="#111" stroke-width="1.9" />
<line x1="96.60" y1="353.65" x2="255.00" y2="353.65" stroke="#111" stroke-width="1.9" />
<line x1="92.00" y1="247.60" x2="97.50" y2="247.60" stroke="#111" stroke-width="1.5" />
<text x="86.90" y="251.90" font-size="10.5" text-anchor="end" fill="#111" >100</text>
<line x1="94.70" y1="272.31" x2="97.50" y2="272.31" stroke="#111" stroke-width="1.0" />
<line x1="94.70" y1="266.08" x2="97.50" y2="266.08" stroke="#111" stroke-width="1.0" />
<line x1="94.70" y1="261.67" x2="97.50" y2="261.67" stroke="#111" stroke-width="1.0" />
<line x1="94.70" y1="258.24" x2="97.50" y2="258.24" stroke="#111" stroke-width="1.0" />
<line x1="94.70" y1="255.44" x2="97.50" y2="255.44" stroke="#111" stroke-width="1.0" />
<line x1="94.70" y1="253.08" x2="97.50" y2="253.08" stroke="#111" stroke-width="1.0" />
<line x1="94.70" y1="251.03" x2="97.50" y2="251.03" stroke="#111" stroke-width="1.0" />
<line x1="94.70" y1="249.22" x2="97.50" y2="249.22" stroke="#111" stroke-width="1.0" />
<line x1="92.00" y1="282.95" x2="97.50" y2="282.95" stroke="#111" stroke-width="1.5" />
<text x="86.90" y="287.25" font-size="10.5" text-anchor="end" fill="#111" >10</text>
<line x1="94.70" y1="307.66" x2="97.50" y2="307.66" stroke="#111" stroke-width="1.0" />
<line x1="94.70" y1="301.43" x2="97.50" y2="301.43" stroke="#111" stroke-width="1.0" />
<line x1="94.70" y1="297.02" x2="97.50" y2="297.02" stroke="#111" stroke-width="1.0" />
<line x1="94.70" y1="293.59" x2="97.50" y2="293.59" stroke="#111" stroke-width="1.0" />
<line x1="94.70" y1="290.79" x2="97.50" y2="290.79" stroke="#111" stroke-width="1.0" />
<line x1="94.70" y1="288.43" x2="97.50" y2="288.43" stroke="#111" stroke-width="1.0" />
<line x1="94.70" y1="286.38" x2="97.50" y2="286.38" stroke="#111" stroke-width="1.0" />
<line x1="94.70" y1="284.57" x2="97.50" y2="284.57" stroke="#111" stroke-width="1.0" />
<line x1="92.00" y1="318.30" x2="97.50" y2="318.30" stroke="#111" stroke-width="1.5" />
<text x="86.90" y="322.60" font-size="10.5" text-anchor="end" fill="#111" >1</text>
<line x1="94.70" y1="343.01" x2="97.50" y2="343.01" stroke="#111" stroke-width="1.0" />
<line x1="94.70" y1="336.78" x2="97.50" y2="336.78" stroke="#111" stroke-width="1.0" />
<line x1="94.70" y1="332.37" x2="97.50" y2="332.37" stroke="#111" stroke-width="1.0" />
<line x1="94.70" y1="328.94" x2="97.50" y2="328.94" stroke="#111" stroke-width="1.0" />
<line x1="94.70" y1="326.14" x2="97.50" y2="326.14" stroke="#111" stroke-width="1.0" />
<line x1="94.70" y1="323.78" x2="97.50" y2="323.78" stroke="#111" stroke-width="1.0" />
<line x1="94.70" y1="321.73" x2="97.50" y2="321.73" stroke="#111" stroke-width="1.0" />
<line x1="94.70" y1="319.92" x2="97.50" y2="319.92" stroke="#111" stroke-width="1.0" />
<line x1="92.00" y1="353.65" x2="97.50" y2="353.65" stroke="#111" stroke-width="1.5" />
<text x="86.90" y="357.95" font-size="10.5" text-anchor="end" fill="#111" >0.1</text>
<text transform="translate(28.30,297.20) rotate(-90)" font-size="12.75" text-anchor="middle" fill="#111"><tspan font-style="italic">Inhbb</tspan> mRNA expression</text>
<text transform="translate(44.20,297.20) rotate(-90)" font-size="12.75" text-anchor="middle" fill="#111">FC vs controls (with 95%</text>
<text transform="translate(60.10,297.20) rotate(-90)" font-size="12.75" text-anchor="middle" fill="#111">confidence intervals)</text>
<line x1="98.50" y1="318.30" x2="255.00" y2="318.30" stroke="#3a3a3a" stroke-width="1.3" stroke-dasharray="1.1 0.8"/>
<polyline points="104.90,313.80 120.85,292.20 136.80,272.90 152.75,262.60 168.70,263.20 184.65,261.90 200.60,266.70 216.55,277.50 232.50,299.70 248.45,312.80" fill="none" stroke="#970c37" stroke-width="2.2" stroke-linejoin="round"/>
<line x1="104.90" y1="307.60" x2="104.90" y2="320.00" stroke="#111" stroke-width="1.7" />
<line x1="102.60" y1="307.60" x2="107.20" y2="307.60" stroke="#111" stroke-width="1.7" />
<line x1="102.60" y1="320.00" x2="107.20" y2="320.00" stroke="#111" stroke-width="1.7" />
<line x1="120.85" y1="284.70" x2="120.85" y2="299.70" stroke="#111" stroke-width="1.7" />
<line x1="118.55" y1="284.70" x2="123.15" y2="284.70" stroke="#111" stroke-width="1.7" />
<line x1="118.55" y1="299.70" x2="123.15" y2="299.70" stroke="#111" stroke-width="1.7" />
<line x1="136.80" y1="264.40" x2="136.80" y2="280.80" stroke="#111" stroke-width="1.7" />
<line x1="134.50" y1="264.40" x2="139.10" y2="264.40" stroke="#111" stroke-width="1.7" />
<line x1="134.50" y1="280.80" x2="139.10" y2="280.80" stroke="#111" stroke-width="1.7" />
<line x1="152.75" y1="256.20" x2="152.75" y2="268.30" stroke="#111" stroke-width="1.7" />
<line x1="150.45" y1="256.20" x2="155.05" y2="256.20" stroke="#111" stroke-width="1.7" />
<line x1="150.45" y1="268.30" x2="155.05" y2="268.30" stroke="#111" stroke-width="1.7" />
<line x1="168.70" y1="257.20" x2="168.70" y2="269.30" stroke="#111" stroke-width="1.7" />
<line x1="166.40" y1="257.20" x2="171.00" y2="257.20" stroke="#111" stroke-width="1.7" />
<line x1="166.40" y1="269.30" x2="171.00" y2="269.30" stroke="#111" stroke-width="1.7" />
<line x1="184.65" y1="253.60" x2="184.65" y2="270.30" stroke="#111" stroke-width="1.7" />
<line x1="182.35" y1="253.60" x2="186.95" y2="253.60" stroke="#111" stroke-width="1.7" />
<line x1="182.35" y1="270.30" x2="186.95" y2="270.30" stroke="#111" stroke-width="1.7" />
<line x1="200.60" y1="258.50" x2="200.60" y2="273.60" stroke="#111" stroke-width="1.7" />
<line x1="198.30" y1="258.50" x2="202.90" y2="258.50" stroke="#111" stroke-width="1.7" />
<line x1="198.30" y1="273.60" x2="202.90" y2="273.60" stroke="#111" stroke-width="1.7" />
<line x1="216.55" y1="267.70" x2="216.55" y2="287.30" stroke="#111" stroke-width="1.7" />
<line x1="214.25" y1="267.70" x2="218.85" y2="267.70" stroke="#111" stroke-width="1.7" />
<line x1="214.25" y1="287.30" x2="218.85" y2="287.30" stroke="#111" stroke-width="1.7" />
<line x1="232.50" y1="292.50" x2="232.50" y2="306.90" stroke="#111" stroke-width="1.7" />
<line x1="230.20" y1="292.50" x2="234.80" y2="292.50" stroke="#111" stroke-width="1.7" />
<line x1="230.20" y1="306.90" x2="234.80" y2="306.90" stroke="#111" stroke-width="1.7" />
<line x1="248.45" y1="304.30" x2="248.45" y2="319.30" stroke="#111" stroke-width="1.7" />
<line x1="246.15" y1="304.30" x2="250.75" y2="304.30" stroke="#111" stroke-width="1.7" />
<line x1="246.15" y1="319.30" x2="250.75" y2="319.30" stroke="#111" stroke-width="1.7" />
<circle cx="104.90" cy="313.80" r="2.4" fill="#970c37"/>
<circle cx="120.85" cy="292.20" r="2.4" fill="#970c37"/>
<circle cx="136.80" cy="272.90" r="2.4" fill="#970c37"/>
<circle cx="152.75" cy="262.60" r="2.4" fill="#970c37"/>
<circle cx="168.70" cy="263.20" r="2.4" fill="#970c37"/>
<circle cx="184.65" cy="261.90" r="2.4" fill="#970c37"/>
<circle cx="200.60" cy="266.70" r="2.4" fill="#970c37"/>
<circle cx="216.55" cy="277.50" r="2.4" fill="#970c37"/>
<circle cx="232.50" cy="299.70" r="2.4" fill="#970c37"/>
<circle cx="248.45" cy="312.80" r="2.4" fill="#970c37"/>
<line x1="104.90" y1="353.65" x2="104.90" y2="358.65" stroke="#111" stroke-width="1.5" />
<text transform="translate(111.50,367.45) rotate(-45)" font-size="10.85" text-anchor="end" fill="#111">LPS 0.5h</text>
<line x1="120.85" y1="353.65" x2="120.85" y2="358.65" stroke="#111" stroke-width="1.5" />
<text transform="translate(127.45,367.45) rotate(-45)" font-size="10.85" text-anchor="end" fill="#111">LPS 1h</text>
<line x1="136.80" y1="353.65" x2="136.80" y2="358.65" stroke="#111" stroke-width="1.5" />
<text transform="translate(143.40,367.45) rotate(-45)" font-size="10.85" text-anchor="end" fill="#111">LPS 2h</text>
<line x1="152.75" y1="353.65" x2="152.75" y2="358.65" stroke="#111" stroke-width="1.5" />
<text transform="translate(159.35,367.45) rotate(-45)" font-size="10.85" text-anchor="end" fill="#111">LPS 4h</text>
<line x1="168.70" y1="353.65" x2="168.70" y2="358.65" stroke="#111" stroke-width="1.5" />
<text transform="translate(175.30,367.45) rotate(-45)" font-size="10.85" text-anchor="end" fill="#111">LPS 6h</text>
<line x1="184.65" y1="353.65" x2="184.65" y2="358.65" stroke="#111" stroke-width="1.5" />
<text transform="translate(191.25,367.45) rotate(-45)" font-size="10.85" text-anchor="end" fill="#111">LPS 8h</text>
<line x1="200.60" y1="353.65" x2="200.60" y2="358.65" stroke="#111" stroke-width="1.5" />
<text transform="translate(207.20,367.45) rotate(-45)" font-size="10.85" text-anchor="end" fill="#111">LPS 10h</text>
<line x1="216.55" y1="353.65" x2="216.55" y2="358.65" stroke="#111" stroke-width="1.5" />
<text transform="translate(223.15,367.45) rotate(-45)" font-size="10.85" text-anchor="end" fill="#111">LPS 12h</text>
<line x1="232.50" y1="353.65" x2="232.50" y2="358.65" stroke="#111" stroke-width="1.5" />
<text transform="translate(239.10,367.45) rotate(-45)" font-size="10.85" text-anchor="end" fill="#111">LPS 15h</text>
<line x1="248.45" y1="353.65" x2="248.45" y2="358.65" stroke="#111" stroke-width="1.5" />
<text transform="translate(255.05,367.45) rotate(-45)" font-size="10.85" text-anchor="end" fill="#111">LPS 24h</text>
<line x1="350.20" y1="243.20" x2="350.20" y2="356.35" stroke="#111" stroke-width="1.9" />
<line x1="349.30" y1="355.45" x2="509.50" y2="355.45" stroke="#111" stroke-width="1.9" />
<line x1="344.70" y1="249.70" x2="350.20" y2="249.70" stroke="#111" stroke-width="1.5" />
<text x="339.60" y="254.00" font-size="10.5" text-anchor="end" fill="#111" >100</text>
<line x1="347.40" y1="274.34" x2="350.20" y2="274.34" stroke="#111" stroke-width="1.0" />
<line x1="347.40" y1="268.13" x2="350.20" y2="268.13" stroke="#111" stroke-width="1.0" />
<line x1="347.40" y1="263.73" x2="350.20" y2="263.73" stroke="#111" stroke-width="1.0" />
<line x1="347.40" y1="260.31" x2="350.20" y2="260.31" stroke="#111" stroke-width="1.0" />
<line x1="347.40" y1="257.52" x2="350.20" y2="257.52" stroke="#111" stroke-width="1.0" />
<line x1="347.40" y1="255.16" x2="350.20" y2="255.16" stroke="#111" stroke-width="1.0" />
<line x1="347.40" y1="253.12" x2="350.20" y2="253.12" stroke="#111" stroke-width="1.0" />
<line x1="347.40" y1="251.31" x2="350.20" y2="251.31" stroke="#111" stroke-width="1.0" />
<line x1="344.70" y1="284.95" x2="350.20" y2="284.95" stroke="#111" stroke-width="1.5" />
<text x="339.60" y="289.25" font-size="10.5" text-anchor="end" fill="#111" >10</text>
<line x1="347.40" y1="309.59" x2="350.20" y2="309.59" stroke="#111" stroke-width="1.0" />
<line x1="347.40" y1="303.38" x2="350.20" y2="303.38" stroke="#111" stroke-width="1.0" />
<line x1="347.40" y1="298.98" x2="350.20" y2="298.98" stroke="#111" stroke-width="1.0" />
<line x1="347.40" y1="295.56" x2="350.20" y2="295.56" stroke="#111" stroke-width="1.0" />
<line x1="347.40" y1="292.77" x2="350.20" y2="292.77" stroke="#111" stroke-width="1.0" />
<line x1="347.40" y1="290.41" x2="350.20" y2="290.41" stroke="#111" stroke-width="1.0" />
<line x1="347.40" y1="288.37" x2="350.20" y2="288.37" stroke="#111" stroke-width="1.0" />
<line x1="347.40" y1="286.56" x2="350.20" y2="286.56" stroke="#111" stroke-width="1.0" />
<line x1="344.70" y1="320.20" x2="350.20" y2="320.20" stroke="#111" stroke-width="1.5" />
<text x="339.60" y="324.50" font-size="10.5" text-anchor="end" fill="#111" >1</text>
<line x1="347.40" y1="344.84" x2="350.20" y2="344.84" stroke="#111" stroke-width="1.0" />
<line x1="347.40" y1="338.63" x2="350.20" y2="338.63" stroke="#111" stroke-width="1.0" />
<line x1="347.40" y1="334.23" x2="350.20" y2="334.23" stroke="#111" stroke-width="1.0" />
<line x1="347.40" y1="330.81" x2="350.20" y2="330.81" stroke="#111" stroke-width="1.0" />
<line x1="347.40" y1="328.02" x2="350.20" y2="328.02" stroke="#111" stroke-width="1.0" />
<line x1="347.40" y1="325.66" x2="350.20" y2="325.66" stroke="#111" stroke-width="1.0" />
<line x1="347.40" y1="323.62" x2="350.20" y2="323.62" stroke="#111" stroke-width="1.0" />
<line x1="347.40" y1="321.81" x2="350.20" y2="321.81" stroke="#111" stroke-width="1.0" />
<line x1="344.70" y1="355.45" x2="350.20" y2="355.45" stroke="#111" stroke-width="1.5" />
<text x="339.60" y="359.75" font-size="10.5" text-anchor="end" fill="#111" >0.1</text>
<text transform="translate(282.40,298.30) rotate(-90)" font-size="12.75" text-anchor="middle" fill="#111"><tspan font-style="italic">Inhbb</tspan> mRNA expression</text>
<text transform="translate(298.30,298.30) rotate(-90)" font-size="12.75" text-anchor="middle" fill="#111">FC vs controls (with 95%</text>
<text transform="translate(314.20,298.30) rotate(-90)" font-size="12.75" text-anchor="middle" fill="#111">confidence intervals)</text>
<line x1="351.20" y1="320.20" x2="509.50" y2="320.20" stroke="#3a3a3a" stroke-width="1.3" stroke-dasharray="1.1 0.8"/>
<polyline points="362.80,323.30 389.35,279.80 415.90,280.40 442.45,271.00 469.00,277.50 495.55,285.30" fill="none" stroke="#970c37" stroke-width="2.2" stroke-linejoin="round"/>
<line x1="362.80" y1="314.40" x2="362.80" y2="333.10" stroke="#111" stroke-width="1.7" />
<line x1="360.50" y1="314.40" x2="365.10" y2="314.40" stroke="#111" stroke-width="1.7" />
<line x1="360.50" y1="333.10" x2="365.10" y2="333.10" stroke="#111" stroke-width="1.7" />
<line x1="389.35" y1="272.60" x2="389.35" y2="288.00" stroke="#111" stroke-width="1.7" />
<line x1="387.05" y1="272.60" x2="391.65" y2="272.60" stroke="#111" stroke-width="1.7" />
<line x1="387.05" y1="288.00" x2="391.65" y2="288.00" stroke="#111" stroke-width="1.7" />
<line x1="415.90" y1="272.60" x2="415.90" y2="288.30" stroke="#111" stroke-width="1.7" />
<line x1="413.60" y1="272.60" x2="418.20" y2="272.60" stroke="#111" stroke-width="1.7" />
<line x1="413.60" y1="288.30" x2="418.20" y2="288.30" stroke="#111" stroke-width="1.7" />
<line x1="442.45" y1="261.80" x2="442.45" y2="280.80" stroke="#111" stroke-width="1.7" />
<line x1="440.15" y1="261.80" x2="444.75" y2="261.80" stroke="#111" stroke-width="1.7" />
<line x1="440.15" y1="280.80" x2="444.75" y2="280.80" stroke="#111" stroke-width="1.7" />
<line x1="469.00" y1="269.70" x2="469.00" y2="284.70" stroke="#111" stroke-width="1.7" />
<line x1="466.70" y1="269.70" x2="471.30" y2="269.70" stroke="#111" stroke-width="1.7" />
<line x1="466.70" y1="284.70" x2="471.30" y2="284.70" stroke="#111" stroke-width="1.7" />
<line x1="495.55" y1="276.80" x2="495.55" y2="293.20" stroke="#111" stroke-width="1.7" />
<line x1="493.25" y1="276.80" x2="497.85" y2="276.80" stroke="#111" stroke-width="1.7" />
<line x1="493.25" y1="293.20" x2="497.85" y2="293.20" stroke="#111" stroke-width="1.7" />
<circle cx="362.80" cy="323.30" r="2.4" fill="#970c37"/>
<circle cx="389.35" cy="279.80" r="2.4" fill="#970c37"/>
<circle cx="415.90" cy="280.40" r="2.4" fill="#970c37"/>
<circle cx="442.45" cy="271.00" r="2.4" fill="#970c37"/>
<circle cx="469.00" cy="277.50" r="2.4" fill="#970c37"/>
<circle cx="495.55" cy="285.30" r="2.4" fill="#970c37"/>
<line x1="362.80" y1="355.45" x2="362.80" y2="360.45" stroke="#111" stroke-width="1.5" />
<text transform="translate(369.40,369.25) rotate(-45)" font-size="10.85" text-anchor="end" fill="#111">E. coli 0.5h</text>
<line x1="389.35" y1="355.45" x2="389.35" y2="360.45" stroke="#111" stroke-width="1.5" />
<text transform="translate(395.95,369.25) rotate(-45)" font-size="10.85" text-anchor="end" fill="#111">E. coli 2h</text>
<line x1="415.90" y1="355.45" x2="415.90" y2="360.45" stroke="#111" stroke-width="1.5" />
<text transform="translate(422.50,369.25) rotate(-45)" font-size="10.85" text-anchor="end" fill="#111">E. coli 4h</text>
<line x1="442.45" y1="355.45" x2="442.45" y2="360.45" stroke="#111" stroke-width="1.5" />
<text transform="translate(449.05,369.25) rotate(-45)" font-size="10.85" text-anchor="end" fill="#111">E. coli 6h</text>
<line x1="469.00" y1="355.45" x2="469.00" y2="360.45" stroke="#111" stroke-width="1.5" />
<text transform="translate(475.60,369.25) rotate(-45)" font-size="10.85" text-anchor="end" fill="#111">E. coli 20h</text>
<line x1="495.55" y1="355.45" x2="495.55" y2="360.45" stroke="#111" stroke-width="1.5" />
<text transform="translate(502.15,369.25) rotate(-45)" font-size="10.85" text-anchor="end" fill="#111">E. coli 28h</text>
<line x1="97.50" y1="476.70" x2="97.50" y2="586.90" stroke="#111" stroke-width="1.9" />
<line x1="96.60" y1="586.00" x2="256.00" y2="586.00" stroke="#111" stroke-width="1.9" />
<line x1="92.00" y1="481.30" x2="97.50" y2="481.30" stroke="#111" stroke-width="1.5" />
<text x="86.90" y="485.60" font-size="10.5" text-anchor="end" fill="#111" >10</text>
<line x1="94.70" y1="517.89" x2="97.50" y2="517.89" stroke="#111" stroke-width="1.0" />
<line x1="94.70" y1="508.67" x2="97.50" y2="508.67" stroke="#111" stroke-width="1.0" />
<line x1="94.70" y1="502.13" x2="97.50" y2="502.13" stroke="#111" stroke-width="1.0" />
<line x1="94.70" y1="497.06" x2="97.50" y2="497.06" stroke="#111" stroke-width="1.0" />
<line x1="94.70" y1="492.91" x2="97.50" y2="492.91" stroke="#111" stroke-width="1.0" />
<line x1="94.70" y1="489.41" x2="97.50" y2="489.41" stroke="#111" stroke-width="1.0" />
<line x1="94.70" y1="486.37" x2="97.50" y2="486.37" stroke="#111" stroke-width="1.0" />
<line x1="94.70" y1="483.70" x2="97.50" y2="483.70" stroke="#111" stroke-width="1.0" />
<line x1="92.00" y1="533.65" x2="97.50" y2="533.65" stroke="#111" stroke-width="1.5" />
<text x="86.90" y="537.95" font-size="10.5" text-anchor="end" fill="#111" >1</text>
<line x1="94.70" y1="570.24" x2="97.50" y2="570.24" stroke="#111" stroke-width="1.0" />
<line x1="94.70" y1="561.02" x2="97.50" y2="561.02" stroke="#111" stroke-width="1.0" />
<line x1="94.70" y1="554.48" x2="97.50" y2="554.48" stroke="#111" stroke-width="1.0" />
<line x1="94.70" y1="549.41" x2="97.50" y2="549.41" stroke="#111" stroke-width="1.0" />
<line x1="94.70" y1="545.26" x2="97.50" y2="545.26" stroke="#111" stroke-width="1.0" />
<line x1="94.70" y1="541.76" x2="97.50" y2="541.76" stroke="#111" stroke-width="1.0" />
<line x1="94.70" y1="538.72" x2="97.50" y2="538.72" stroke="#111" stroke-width="1.0" />
<line x1="94.70" y1="536.05" x2="97.50" y2="536.05" stroke="#111" stroke-width="1.0" />
<line x1="92.00" y1="586.00" x2="97.50" y2="586.00" stroke="#111" stroke-width="1.5" />
<text x="86.90" y="590.30" font-size="10.5" text-anchor="end" fill="#111" >0.1</text>
<text transform="translate(30.50,530.20) rotate(-90)" font-size="12.75" text-anchor="middle" fill="#111"><tspan font-style="italic">Hamp</tspan> mRNA expression</text>
<text transform="translate(46.40,530.20) rotate(-90)" font-size="12.75" text-anchor="middle" fill="#111">FC vs controls (with 95%</text>
<text transform="translate(62.30,530.20) rotate(-90)" font-size="12.75" text-anchor="middle" fill="#111">confidence intervals)</text>
<line x1="98.50" y1="533.65" x2="256.00" y2="533.65" stroke="#3a3a3a" stroke-width="1.3" stroke-dasharray="1.1 0.8"/>
<polyline points="116.40,526.00 148.25,514.60 180.10,519.80 211.95,552.80 243.80,543.00" fill="none" stroke="#970c37" stroke-width="2.2" stroke-dasharray="3.6 2.6" stroke-linejoin="round"/>
<polyline points="111.20,519.20 143.05,510.00 174.90,503.80 206.75,549.90 238.60,527.70" fill="none" stroke="#2b4a7d" stroke-width="2.2" stroke-linejoin="round"/>
<line x1="116.40" y1="511.70" x2="116.40" y2="537.80" stroke="#111" stroke-width="1.7" />
<line x1="113.30" y1="511.70" x2="119.50" y2="511.70" stroke="#111" stroke-width="1.7" />
<line x1="113.30" y1="537.80" x2="119.50" y2="537.80" stroke="#111" stroke-width="1.7" />
<line x1="148.25" y1="501.80" x2="148.25" y2="525.40" stroke="#111" stroke-width="1.7" />
<line x1="145.15" y1="501.80" x2="151.35" y2="501.80" stroke="#111" stroke-width="1.7" />
<line x1="145.15" y1="525.40" x2="151.35" y2="525.40" stroke="#111" stroke-width="1.7" />
<line x1="180.10" y1="508.00" x2="180.10" y2="532.00" stroke="#111" stroke-width="1.7" />
<line x1="177.00" y1="508.00" x2="183.20" y2="508.00" stroke="#111" stroke-width="1.7" />
<line x1="177.00" y1="532.00" x2="183.20" y2="532.00" stroke="#111" stroke-width="1.7" />
<line x1="211.95" y1="540.00" x2="211.95" y2="564.00" stroke="#111" stroke-width="1.7" />
<line x1="208.85" y1="540.00" x2="215.05" y2="540.00" stroke="#111" stroke-width="1.7" />
<line x1="208.85" y1="564.00" x2="215.05" y2="564.00" stroke="#111" stroke-width="1.7" />
<line x1="243.80" y1="529.30" x2="243.80" y2="555.50" stroke="#111" stroke-width="1.7" />
<line x1="240.70" y1="529.30" x2="246.90" y2="529.30" stroke="#111" stroke-width="1.7" />
<line x1="240.70" y1="555.50" x2="246.90" y2="555.50" stroke="#111" stroke-width="1.7" />
<line x1="111.20" y1="509.70" x2="111.20" y2="529.30" stroke="#111" stroke-width="1.7" />
<line x1="108.10" y1="509.70" x2="114.30" y2="509.70" stroke="#111" stroke-width="1.7" />
<line x1="108.10" y1="529.30" x2="114.30" y2="529.30" stroke="#111" stroke-width="1.7" />
<line x1="143.05" y1="501.50" x2="143.05" y2="519.80" stroke="#111" stroke-width="1.7" />
<line x1="139.95" y1="501.50" x2="146.15" y2="501.50" stroke="#111" stroke-width="1.7" />
<line x1="139.95" y1="519.80" x2="146.15" y2="519.80" stroke="#111" stroke-width="1.7" />
<line x1="174.90" y1="495.30" x2="174.90" y2="511.70" stroke="#111" stroke-width="1.7" />
<line x1="171.80" y1="495.30" x2="178.00" y2="495.30" stroke="#111" stroke-width="1.7" />
<line x1="171.80" y1="511.70" x2="178.00" y2="511.70" stroke="#111" stroke-width="1.7" />
<line x1="206.75" y1="542.40" x2="206.75" y2="559.70" stroke="#111" stroke-width="1.7" />
<line x1="203.65" y1="542.40" x2="209.85" y2="542.40" stroke="#111" stroke-width="1.7" />
<line x1="203.65" y1="559.70" x2="209.85" y2="559.70" stroke="#111" stroke-width="1.7" />
<line x1="238.60" y1="517.90" x2="238.60" y2="538.50" stroke="#111" stroke-width="1.7" />
<line x1="235.50" y1="517.90" x2="241.70" y2="517.90" stroke="#111" stroke-width="1.7" />
<line x1="235.50" y1="538.50" x2="241.70" y2="538.50" stroke="#111" stroke-width="1.7" />
<polygon points="116.40,522.70 119.53,528.14 113.26,528.14" fill="#b80d3e"/>
<polygon points="148.25,511.30 151.38,516.75 145.12,516.75" fill="#b80d3e"/>
<polygon points="180.10,516.50 183.23,521.94 176.97,521.94" fill="#b80d3e"/>
<polygon points="211.95,549.50 215.09,554.94 208.82,554.94" fill="#b80d3e"/>
<polygon points="243.80,539.70 246.93,545.14 240.66,545.14" fill="#b80d3e"/>
<circle cx="111.20" cy="519.20" r="3.1" fill="#2b4a7d"/>
<circle cx="143.05" cy="510.00" r="3.1" fill="#2b4a7d"/>
<circle cx="174.90" cy="503.80" r="3.1" fill="#2b4a7d"/>
<circle cx="206.75" cy="549.90" r="3.1" fill="#2b4a7d"/>
<circle cx="238.60" cy="527.70" r="3.1" fill="#2b4a7d"/>
<line x1="200.30" y1="476.20" x2="202.90" y2="476.20" stroke="#970c37" stroke-width="2.2" />
<line x1="212.50" y1="476.20" x2="215.10" y2="476.20" stroke="#970c37" stroke-width="2.2" />
<polygon points="207.70,472.00 211.31,478.27 204.09,478.27" fill="#970c37"/>
<text x="221.00" y="480.00" font-size="9.6" text-anchor="start" fill="#111"><tspan font-style="italic">Inhbb</tspan><tspan font-size="6.72" dy="-4.32" font-style="italic">-/-</tspan></text>
<line x1="200.30" y1="489.80" x2="215.30" y2="489.80" stroke="#2b4a7d" stroke-width="2.2" />
<circle cx="207.70" cy="489.80" r="3.3" fill="#2b4a7d"/>
<text x="220.40" y="493.80" font-size="9.6" text-anchor="start" fill="#111" >WT</text>
<line x1="113.80" y1="586.00" x2="113.80" y2="591.00" stroke="#111" stroke-width="1.5" />
<text transform="translate(120.40,599.80) rotate(-45)" font-size="10.85" text-anchor="end" fill="#111">LPS 2h</text>
<line x1="145.65" y1="586.00" x2="145.65" y2="591.00" stroke="#111" stroke-width="1.5" />
<text transform="translate(152.25,599.80) rotate(-45)" font-size="10.85" text-anchor="end" fill="#111">LPS 4h</text>
<line x1="177.50" y1="586.00" x2="177.50" y2="591.00" stroke="#111" stroke-width="1.5" />
<text transform="translate(184.10,599.80) rotate(-45)" font-size="10.85" text-anchor="end" fill="#111">LPS 6h</text>
<line x1="209.35" y1="586.00" x2="209.35" y2="591.00" stroke="#111" stroke-width="1.5" />
<text transform="translate(215.95,599.80) rotate(-45)" font-size="10.85" text-anchor="end" fill="#111">LPS 15h</text>
<line x1="241.20" y1="586.00" x2="241.20" y2="591.00" stroke="#111" stroke-width="1.5" />
<text transform="translate(247.80,599.80) rotate(-45)" font-size="10.85" text-anchor="end" fill="#111">LPS 24h</text>
<line x1="349.60" y1="474.30" x2="349.60" y2="585.90" stroke="#111" stroke-width="1.9" />
<line x1="348.70" y1="585.00" x2="509.50" y2="585.00" stroke="#111" stroke-width="1.9" />
<line x1="344.10" y1="479.60" x2="349.60" y2="479.60" stroke="#111" stroke-width="1.5" />
<text x="339.00" y="483.90" font-size="10.5" text-anchor="end" fill="#111" >10</text>
<line x1="346.80" y1="516.44" x2="349.60" y2="516.44" stroke="#111" stroke-width="1.0" />
<line x1="346.80" y1="507.16" x2="349.60" y2="507.16" stroke="#111" stroke-width="1.0" />
<line x1="346.80" y1="500.57" x2="349.60" y2="500.57" stroke="#111" stroke-width="1.0" />
<line x1="346.80" y1="495.46" x2="349.60" y2="495.46" stroke="#111" stroke-width="1.0" />
<line x1="346.80" y1="491.29" x2="349.60" y2="491.29" stroke="#111" stroke-width="1.0" />
<line x1="346.80" y1="487.76" x2="349.60" y2="487.76" stroke="#111" stroke-width="1.0" />
<line x1="346.80" y1="484.71" x2="349.60" y2="484.71" stroke="#111" stroke-width="1.0" />
<line x1="346.80" y1="482.01" x2="349.60" y2="482.01" stroke="#111" stroke-width="1.0" />
<line x1="344.10" y1="532.30" x2="349.60" y2="532.30" stroke="#111" stroke-width="1.5" />
<text x="339.00" y="536.60" font-size="10.5" text-anchor="end" fill="#111" >1</text>
<line x1="346.80" y1="569.14" x2="349.60" y2="569.14" stroke="#111" stroke-width="1.0" />
<line x1="346.80" y1="559.86" x2="349.60" y2="559.86" stroke="#111" stroke-width="1.0" />
<line x1="346.80" y1="553.27" x2="349.60" y2="553.27" stroke="#111" stroke-width="1.0" />
<line x1="346.80" y1="548.16" x2="349.60" y2="548.16" stroke="#111" stroke-width="1.0" />
<line x1="346.80" y1="543.99" x2="349.60" y2="543.99" stroke="#111" stroke-width="1.0" />
<line x1="346.80" y1="540.46" x2="349.60" y2="540.46" stroke="#111" stroke-width="1.0" />
<line x1="346.80" y1="537.41" x2="349.60" y2="537.41" stroke="#111" stroke-width="1.0" />
<line x1="346.80" y1="534.71" x2="349.60" y2="534.71" stroke="#111" stroke-width="1.0" />
<line x1="344.10" y1="585.00" x2="349.60" y2="585.00" stroke="#111" stroke-width="1.5" />
<text x="339.00" y="589.30" font-size="10.5" text-anchor="end" fill="#111" >0.1</text>
<text transform="translate(284.00,529.50) rotate(-90)" font-size="12.75" text-anchor="middle" fill="#111"><tspan font-style="italic">Hamp</tspan> mRNA expression</text>
<text transform="translate(299.90,529.50) rotate(-90)" font-size="12.75" text-anchor="middle" fill="#111">FC vs controls (with 95%</text>
<text transform="translate(315.80,529.50) rotate(-90)" font-size="12.75" text-anchor="middle" fill="#111">confidence intervals)</text>
<line x1="350.60" y1="532.30" x2="509.50" y2="532.30" stroke="#3a3a3a" stroke-width="1.3" stroke-dasharray="1.1 0.8"/>
<polyline points="372.60,523.70 412.40,502.50 452.20,508.40 492.00,499.90" fill="none" stroke="#970c37" stroke-width="2.2" stroke-dasharray="3.6 2.6" stroke-linejoin="round"/>
<polyline points="366.20,516.60 406.00,499.90 445.80,511.30 485.60,504.10" fill="none" stroke="#2b4a7d" stroke-width="2.2" stroke-linejoin="round"/>
<line x1="372.60" y1="509.70" x2="372.60" y2="537.50" stroke="#111" stroke-width="1.7" />
<line x1="369.50" y1="509.70" x2="375.70" y2="509.70" stroke="#111" stroke-width="1.7" />
<line x1="369.50" y1="537.50" x2="375.70" y2="537.50" stroke="#111" stroke-width="1.7" />
<line x1="412.40" y1="491.00" x2="412.40" y2="513.00" stroke="#111" stroke-width="1.7" />
<line x1="409.30" y1="491.00" x2="415.50" y2="491.00" stroke="#111" stroke-width="1.7" />
<line x1="409.30" y1="513.00" x2="415.50" y2="513.00" stroke="#111" stroke-width="1.7" />
<line x1="452.20" y1="494.30" x2="452.20" y2="518.80" stroke="#111" stroke-width="1.7" />
<line x1="449.10" y1="494.30" x2="455.30" y2="494.30" stroke="#111" stroke-width="1.7" />
<line x1="449.10" y1="518.80" x2="455.30" y2="518.80" stroke="#111" stroke-width="1.7" />
<line x1="492.00" y1="486.80" x2="492.00" y2="511.30" stroke="#111" stroke-width="1.7" />
<line x1="488.90" y1="486.80" x2="495.10" y2="486.80" stroke="#111" stroke-width="1.7" />
<line x1="488.90" y1="511.30" x2="495.10" y2="511.30" stroke="#111" stroke-width="1.7" />
<line x1="366.20" y1="510.00" x2="366.20" y2="523.70" stroke="#111" stroke-width="1.7" />
<line x1="363.10" y1="510.00" x2="369.30" y2="510.00" stroke="#111" stroke-width="1.7" />
<line x1="363.10" y1="523.70" x2="369.30" y2="523.70" stroke="#111" stroke-width="1.7" />
<line x1="406.00" y1="492.70" x2="406.00" y2="505.80" stroke="#111" stroke-width="1.7" />
<line x1="402.90" y1="492.70" x2="409.10" y2="492.70" stroke="#111" stroke-width="1.7" />
<line x1="402.90" y1="505.80" x2="409.10" y2="505.80" stroke="#111" stroke-width="1.7" />
<line x1="445.80" y1="503.50" x2="445.80" y2="518.80" stroke="#111" stroke-width="1.7" />
<line x1="442.70" y1="503.50" x2="448.90" y2="503.50" stroke="#111" stroke-width="1.7" />
<line x1="442.70" y1="518.80" x2="448.90" y2="518.80" stroke="#111" stroke-width="1.7" />
<line x1="485.60" y1="497.00" x2="485.60" y2="511.70" stroke="#111" stroke-width="1.7" />
<line x1="482.50" y1="497.00" x2="488.70" y2="497.00" stroke="#111" stroke-width="1.7" />
<line x1="482.50" y1="511.70" x2="488.70" y2="511.70" stroke="#111" stroke-width="1.7" />
<polygon points="372.60,520.40 375.73,525.85 369.46,525.85" fill="#b80d3e"/>
<polygon points="412.40,499.20 415.53,504.64 409.26,504.64" fill="#b80d3e"/>
<polygon points="452.20,505.10 455.33,510.54 449.06,510.54" fill="#b80d3e"/>
<polygon points="492.00,496.60 495.13,502.04 488.86,502.04" fill="#b80d3e"/>
<circle cx="366.20" cy="516.60" r="3.1" fill="#2b4a7d"/>
<circle cx="406.00" cy="499.90" r="3.1" fill="#2b4a7d"/>
<circle cx="445.80" cy="511.30" r="3.1" fill="#2b4a7d"/>
<circle cx="485.60" cy="504.10" r="3.1" fill="#2b4a7d"/>
<line x1="356.30" y1="558.90" x2="358.90" y2="558.90" stroke="#970c37" stroke-width="2.2" />
<line x1="368.50" y1="558.90" x2="371.10" y2="558.90" stroke="#970c37" stroke-width="2.2" />
<polygon points="363.70,554.70 367.31,560.97 360.09,560.97" fill="#970c37"/>
<text x="377.60" y="562.70" font-size="9.6" text-anchor="start" fill="#111"><tspan font-style="italic">Inhbb</tspan><tspan font-size="6.72" dy="-4.32" font-style="italic">-/-</tspan></text>
<line x1="356.30" y1="573.40" x2="371.30" y2="573.40" stroke="#2b4a7d" stroke-width="2.2" />
<circle cx="363.70" cy="573.40" r="3.3" fill="#2b4a7d"/>
<text x="377.00" y="577.40" font-size="9.6" text-anchor="start" fill="#111" >WT</text>
<line x1="369.40" y1="585.00" x2="369.40" y2="590.00" stroke="#111" stroke-width="1.5" />
<text transform="translate(376.00,598.80) rotate(-45)" font-size="10.85" text-anchor="end" fill="#111">E. coli 2h</text>
<line x1="409.20" y1="585.00" x2="409.20" y2="590.00" stroke="#111" stroke-width="1.5" />
<text transform="translate(415.80,598.80) rotate(-45)" font-size="10.85" text-anchor="end" fill="#111">E. coli 4h</text>
<line x1="449.00" y1="585.00" x2="449.00" y2="590.00" stroke="#111" stroke-width="1.5" />
<text transform="translate(455.60,598.80) rotate(-45)" font-size="10.85" text-anchor="end" fill="#111">E. coli 20h</text>
<line x1="488.80" y1="585.00" x2="488.80" y2="590.00" stroke="#111" stroke-width="1.5" />
<text transform="translate(495.40,598.80) rotate(-45)" font-size="10.85" text-anchor="end" fill="#111">E. coli 28h</text>
<line x1="96.90" y1="693.70" x2="96.90" y2="804.80" stroke="#111" stroke-width="1.9" />
<line x1="96.00" y1="803.90" x2="253.50" y2="803.90" stroke="#111" stroke-width="1.9" />
<line x1="91.40" y1="803.90" x2="96.90" y2="803.90" stroke="#111" stroke-width="1.5" />
<text x="85.60" y="808.00" font-size="10.5" text-anchor="end" fill="#111" >0</text>
<line x1="91.40" y1="782.82" x2="96.90" y2="782.82" stroke="#111" stroke-width="1.5" />
<text x="85.60" y="786.92" font-size="10.5" text-anchor="end" fill="#111" >250</text>
<line x1="91.40" y1="761.74" x2="96.90" y2="761.74" stroke="#111" stroke-width="1.5" />
<text x="85.60" y="765.84" font-size="10.5" text-anchor="end" fill="#111" >500</text>
<line x1="91.40" y1="740.66" x2="96.90" y2="740.66" stroke="#111" stroke-width="1.5" />
<text x="85.60" y="744.76" font-size="10.5" text-anchor="end" fill="#111" >750</text>
<line x1="91.40" y1="719.58" x2="96.90" y2="719.58" stroke="#111" stroke-width="1.5" />
<text x="85.60" y="723.68" font-size="10.5" text-anchor="end" fill="#111" >1000</text>
<line x1="91.40" y1="698.50" x2="96.90" y2="698.50" stroke="#111" stroke-width="1.5" />
<text x="85.60" y="702.60" font-size="10.5" text-anchor="end" fill="#111" >1250</text>
<text transform="translate(21.00,748.7) rotate(-90)" font-size="12.75" text-anchor="middle" fill="#111">Serum hepcidin</text>
<text transform="translate(36.90,748.7) rotate(-90)" font-size="12.75" text-anchor="middle" fill="#111">concentration (ng/mL)</text>
<text transform="translate(52.80,748.7) rotate(-90)" font-size="12.75" text-anchor="middle" fill="#111">geometric mean ± 95% CI</text>
<rect x="111.80" y="784.60" width="20.10" height="19.30" fill="#2b4a7d" />
<rect x="141.90" y="781.70" width="20.00" height="22.20" fill="#a8062e" />
<rect x="191.30" y="731.30" width="20.30" height="72.60" fill="#2b4a7d" />
<rect x="220.80" y="726.40" width="20.20" height="77.50" fill="#a8062e" />
<line x1="121.85" y1="769.40" x2="121.85" y2="792.80" stroke="#111" stroke-width="1.9" />
<line x1="117.25" y1="769.40" x2="126.45" y2="769.40" stroke="#111" stroke-width="1.9" />
<line x1="117.25" y1="792.80" x2="126.45" y2="792.80" stroke="#111" stroke-width="1.9" />
<line x1="151.90" y1="761.30" x2="151.90" y2="792.50" stroke="#111" stroke-width="1.9" />
<line x1="147.30" y1="761.30" x2="156.50" y2="761.30" stroke="#111" stroke-width="1.9" />
<line x1="147.30" y1="792.50" x2="156.50" y2="792.50" stroke="#111" stroke-width="1.9" />
<line x1="201.45" y1="720.20" x2="201.45" y2="740.50" stroke="#111" stroke-width="1.9" />
<line x1="196.85" y1="720.20" x2="206.05" y2="720.20" stroke="#111" stroke-width="1.9" />
<line x1="196.85" y1="740.50" x2="206.05" y2="740.50" stroke="#111" stroke-width="1.9" />
<line x1="230.90" y1="700.30" x2="230.90" y2="747.70" stroke="#111" stroke-width="1.9" />
<line x1="226.30" y1="700.30" x2="235.50" y2="700.30" stroke="#111" stroke-width="1.9" />
<line x1="226.30" y1="747.70" x2="235.50" y2="747.70" stroke="#111" stroke-width="1.9" />
<text x="201.60" y="721.30" font-size="13.8" text-anchor="middle" fill="#111" >****</text>
<text x="230.60" y="701.20" font-size="13.8" text-anchor="middle" fill="#111" >****</text>
<rect x="104.70" y="695.40" width="12.00" height="8.30" fill="#2b4a7d" />
<text x="120.90" y="703.00" font-size="9.3" text-anchor="start" fill="#111" >WT</text>
<rect x="104.70" y="709.70" width="12.00" height="7.90" fill="#a8062e" />
<text x="121.70" y="716.50" font-size="9.3" text-anchor="start" fill="#111"><tspan font-style="italic">Inhbb</tspan><tspan font-size="6.51" dy="-4.19" font-style="italic">-/-</tspan></text>
<line x1="136.70" y1="803.90" x2="136.70" y2="808.40" stroke="#111" stroke-width="1.5" />
<text transform="translate(142.90,817.90) rotate(-45)" font-size="11.2" text-anchor="end" fill="#111">Controls</text>
<line x1="216.20" y1="803.90" x2="216.20" y2="808.40" stroke="#111" stroke-width="1.5" />
<text transform="translate(222.40,817.90) rotate(-45)" font-size="11.2" text-anchor="end" fill="#111">LPS 4h</text>
<rect x="1" y="1" width="518" height="855" fill="none" stroke="#000" stroke-width="2"/>
</svg>
</body></html>
